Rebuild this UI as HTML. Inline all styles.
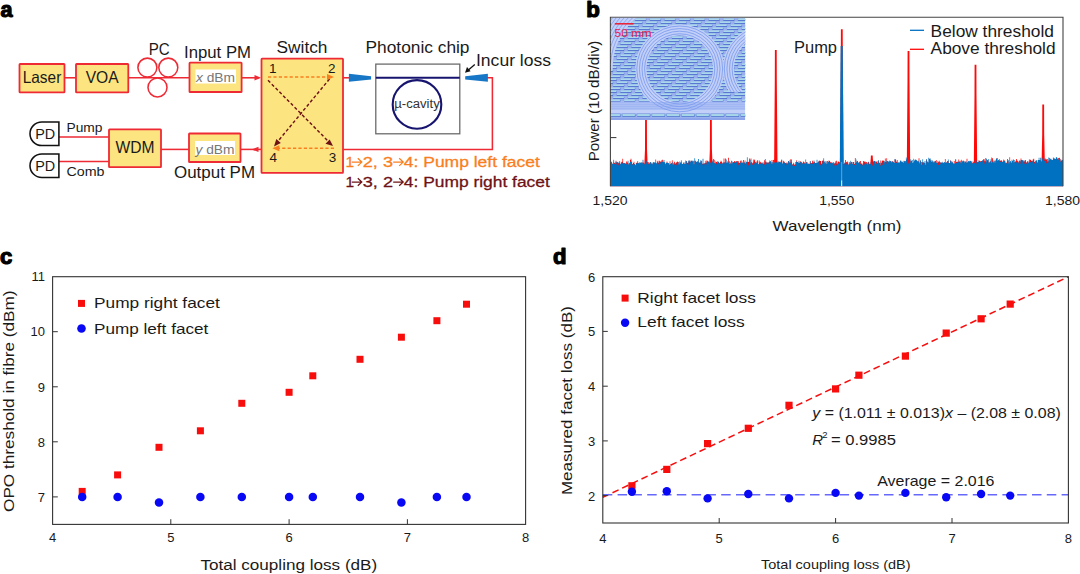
<!DOCTYPE html>
<html><head><meta charset="utf-8"><title>figure</title>
<style>
html,body{margin:0;padding:0;background:#fff;}
body{width:1080px;height:574px;overflow:hidden;}
svg{display:block;font-family:'Liberation Sans', sans-serif;}
text{font-family:"Liberation Sans", sans-serif;}
</style></head><body>
<svg width="1080" height="574" viewBox="0 0 1080 574">
<rect width="1080" height="574" fill="#fff"/>
<g id="pa">
<text x="0.6" y="17.3" font-size="22" fill="#000" textLength="12" lengthAdjust="spacingAndGlyphs" font-weight="bold" stroke="#000" stroke-width="1.2" stroke-linejoin="round">a</text>
<g stroke="#ee2a35" stroke-width="1.55" fill="none">
<path d="M64.5 77.8H76"/>
<path d="M128.3 77.8H189.5"/>
<path d="M241.6 77.8H259"/>
<circle cx="147.4" cy="67.6" r="9.5"/><circle cx="168.3" cy="67.6" r="9.5"/><circle cx="157.5" cy="87.4" r="9.5"/>
<path d="M343 77.8H350"/>
<path d="M487 77.8H492.4V149.4H343"/>
<path d="M261.5 149.4H240"/>
<path d="M189 149.4H161"/>
<path d="M109 136.9H59"/><path d="M109 161.4H59"/>
</g>
<path d="M261 77.8l-6.5 -2.7v5.4z" fill="#ee2a35"/>
<path d="M251.5 149.4l7 -2.7v5.4z" fill="#ee2a35"/>
<rect x="19.5" y="64" width="45.0" height="28.400000000000006" fill="#fce580" stroke="#ee2a35" stroke-width="1.8" rx="0.6"/>
<rect x="76" y="64" width="52.30000000000001" height="28.400000000000006" fill="#fce580" stroke="#ee2a35" stroke-width="1.8" rx="0.6"/>
<rect x="189.5" y="62.7" width="52.099999999999994" height="29.299999999999997" fill="#fce580" stroke="#ee2a35" stroke-width="1.8" rx="0.6"/>
<rect x="261.5" y="58.7" width="81.5" height="114.10000000000001" fill="#fce580" stroke="#ee2a35" stroke-width="1.8" rx="0.6"/>
<rect x="109" y="129.3" width="52" height="37.89999999999998" fill="#fce580" stroke="#ee2a35" stroke-width="1.8" rx="0.6"/>
<rect x="189" y="133.5" width="51.5" height="28.5" fill="#fce580" stroke="#ee2a35" stroke-width="1.8" rx="0.6"/>
<rect x="195.5" y="69.5" width="40.5" height="14" fill="#fff"/>
<rect x="195" y="141" width="40" height="14" fill="#fff"/>
<text x="42" y="82.9" font-size="16.5" fill="#1a1a1a" text-anchor="middle" textLength="38.6" lengthAdjust="spacingAndGlyphs" >Laser</text>
<text x="102.2" y="82.9" font-size="16.5" fill="#1a1a1a" text-anchor="middle" textLength="33" lengthAdjust="spacingAndGlyphs" >VOA</text>
<text x="159.2" y="54.5" font-size="16" fill="#1a1a1a" text-anchor="middle" textLength="21" lengthAdjust="spacingAndGlyphs" >PC</text>
<text x="217.5" y="57.5" font-size="16" fill="#1a1a1a" text-anchor="middle" textLength="67" lengthAdjust="spacingAndGlyphs" >Input PM</text>
<text x="196" y="82" font-size="13.5" fill="#777" textLength="39" lengthAdjust="spacingAndGlyphs"><tspan font-style="italic">x</tspan> dBm</text>
<text x="195.5" y="153.5" font-size="13.5" fill="#777" textLength="39" lengthAdjust="spacingAndGlyphs"><tspan font-style="italic">y</tspan> dBm</text>
<text x="302" y="53" font-size="16" fill="#1a1a1a" text-anchor="middle" textLength="51" lengthAdjust="spacingAndGlyphs" >Switch</text>
<text x="417.5" y="53" font-size="16" fill="#1a1a1a" text-anchor="middle" textLength="104" lengthAdjust="spacingAndGlyphs" >Photonic chip</text>
<text x="476" y="65.5" font-size="16" fill="#1a1a1a" textLength="75" lengthAdjust="spacingAndGlyphs" >Incur loss</text>
<text x="135" y="153.3" font-size="16" fill="#1a1a1a" text-anchor="middle" textLength="39" lengthAdjust="spacingAndGlyphs" >WDM</text>
<text x="214.5" y="177.5" font-size="16" fill="#1a1a1a" text-anchor="middle" textLength="81" lengthAdjust="spacingAndGlyphs" >Output PM</text>
<text x="84.5" y="131.5" font-size="12.5" fill="#1a1a1a" text-anchor="middle" textLength="36" lengthAdjust="spacingAndGlyphs" >Pump</text>
<text x="85.5" y="175.5" font-size="12.5" fill="#1a1a1a" text-anchor="middle" textLength="38" lengthAdjust="spacingAndGlyphs" >Comb</text>
<path d="M58.9 121.95H41.8a11.8 11.8 0 0 0 0 23.6H58.9z" fill="#fff" stroke="#111" stroke-width="1.55"/>
<text x="45.2" y="138.75" font-size="14.5" fill="#1a1a1a" text-anchor="middle" textLength="20" lengthAdjust="spacingAndGlyphs" >PD</text>
<path d="M58.9 153.89999999999998H41.8a11.8 11.8 0 0 0 0 23.6H58.9z" fill="#fff" stroke="#111" stroke-width="1.55"/>
<text x="45.2" y="170.7" font-size="14.5" fill="#1a1a1a" text-anchor="middle" textLength="20" lengthAdjust="spacingAndGlyphs" >PD</text>
<text x="269" y="72.8" font-size="13.5" fill="#1a1a1a" >1</text>
<text x="328" y="72.8" font-size="13.5" fill="#1a1a1a" >2</text>
<text x="269.5" y="162" font-size="13.5" fill="#1a1a1a" >4</text>
<text x="328.8" y="162" font-size="13.5" fill="#1a1a1a" >3</text>
<g stroke-width="1.45" fill="none" stroke-dasharray="3.2 2.2">
<path d="M268 77.0H328" stroke="#f97e1e"/>
<path d="M334 148.3H278" stroke="#f97e1e"/>
<path d="M268 80.3L329.5 142.5" stroke="#6e1216"/>
<path d="M329.5 79L276.5 143" stroke="#6e1216"/>
</g>
<path d="M334 77.0l-7 -3v6z" fill="#f97e1e"/>
<path d="M272.3 148.3l7 -3v6z" fill="#f97e1e"/>
<path d="M333 146l-7.5 -2.2 4.2 -4.2z" fill="#6e1216"/>
<path d="M274 146.5l2.3 -7.5 4.5 3.9z" fill="#6e1216"/>
<rect x="375.8" y="64.1" width="84" height="69.7" fill="#fff" stroke="#666" stroke-width="1.25"/>
<path d="M375.8 77.7H459.8" stroke="#17146f" stroke-width="2.1"/>
<circle cx="417" cy="104.4" r="24.3" fill="none" stroke="#17146f" stroke-width="2.1"/>
<text x="417" y="108.4" font-size="12" fill="#333" text-anchor="middle" textLength="45.5" lengthAdjust="spacingAndGlyphs" >µ-cavity</text>
<path d="M348.9 73.8L371.1 76.2v3.2L348.9 81.8z" fill="#1777c6"/>
<path d="M487.9 73.8L465.2 76.2v3.2L487.9 81.8z" fill="#1777c6"/>
<path d="M474.8 64.6L467.8 70.4" stroke="#111" stroke-width="1.3"/>
<path d="M465 72.7l2 -5.8 3.6 4.4z" fill="#111"/>
<text x="345.6" y="167.4" font-size="15.5" fill="#f97e1e" stroke="#f97e1e" stroke-width="0.3">1</text>
<path d="M351.8 162.1H361.59999999999997M357.8 158.29999999999998L361.8 162.1L357.8 165.9" stroke="#f97e1e" stroke-width="1.25" fill="none"/>
<text x="362.8" y="167.4" font-size="15.5" fill="#f97e1e" textLength="30.2" lengthAdjust="spacingAndGlyphs" stroke="#f97e1e" stroke-width="0.3">2, 3</text>
<path d="M393.2 162.1H403.0M399.20000000000005 158.29999999999998L403.20000000000005 162.1L399.20000000000005 165.9" stroke="#f97e1e" stroke-width="1.25" fill="none"/>
<text x="403.8" y="167.4" font-size="15.5" fill="#f97e1e" textLength="136" lengthAdjust="spacingAndGlyphs" stroke="#f97e1e" stroke-width="0.3">4: Pump left facet</text>
<text x="345.6" y="187.3" font-size="15.5" fill="#6e1216" stroke="#6e1216" stroke-width="0.3">1</text>
<path d="M351.8 182.0H361.59999999999997M357.8 178.2L361.8 182.0L357.8 185.8" stroke="#6e1216" stroke-width="1.25" fill="none"/>
<text x="362.8" y="187.3" font-size="15.5" fill="#6e1216" textLength="30.2" lengthAdjust="spacingAndGlyphs" stroke="#6e1216" stroke-width="0.3">3, 2</text>
<path d="M393.2 182.0H403.0M399.20000000000005 178.2L403.20000000000005 182.0L399.20000000000005 185.8" stroke="#6e1216" stroke-width="1.25" fill="none"/>
<text x="403.8" y="187.3" font-size="15.5" fill="#6e1216" textLength="146" lengthAdjust="spacingAndGlyphs" stroke="#6e1216" stroke-width="0.3">4: Pump right facet</text>
</g>
<g id="pb">
<text x="586.3" y="16.9" font-size="22" fill="#000" textLength="13.6" lengthAdjust="spacingAndGlyphs" font-weight="bold" stroke="#000" stroke-width="1.2" stroke-linejoin="round">b</text>
<path d="M610.4 186.2L610.4 162.8L611.1 162.8L611.1 162.8L611.9 162.8L611.9 163.8L612.6 163.8L612.6 163.9L613.4 163.9L613.4 161.8L614.1 161.8L614.1 163.0L614.9 163.0L614.9 163.6L615.6 163.6L615.6 160.8L616.4 160.8L616.4 162.5L617.1 162.5L617.1 162.0L617.9 162.0L617.9 163.3L618.6 163.3L618.6 163.1L619.4 163.1L619.4 161.0L620.1 161.0L620.1 165.4L620.9 165.4L620.9 164.2L621.6 164.2L621.6 161.8L622.4 161.8L622.4 158.7L623.1 158.7L623.1 166.1L623.9 166.1L623.9 163.1L624.6 163.1L624.6 163.7L625.4 163.7L625.4 163.3L626.1 163.3L626.1 161.5L626.9 161.5L626.9 164.1L627.6 164.1L627.6 166.1L628.4 166.1L628.4 163.4L629.1 163.4L629.1 163.3L629.9 163.3L629.9 159.9L630.6 159.9L630.6 158.8L631.4 158.8L631.4 165.2L632.1 165.2L632.1 163.9L632.9 163.9L632.9 163.0L633.6 163.0L633.6 161.7L634.4 161.7L634.4 164.0L635.1 164.0L635.1 165.4L635.9 165.4L635.9 162.7L636.6 162.7L636.6 163.0L637.4 163.0L637.4 162.5L638.1 162.5L638.1 166.3L638.9 166.3L638.9 162.7L639.6 162.7L639.6 163.5L640.4 163.5L640.4 166.2L641.1 166.2L641.1 163.2L641.9 163.2L641.9 163.6L642.6 163.6L642.6 161.9L643.4 161.9L643.4 166.5L644.1 166.5L644.1 163.4L644.9 163.4L644.9 165.6L645.6 165.6L645.6 163.4L646.4 163.4L646.4 163.7L647.1 163.7L647.1 163.6L647.9 163.6L647.9 162.0L648.6 162.0L648.6 163.6L649.4 163.6L649.4 163.5L650.1 163.5L650.1 162.4L650.9 162.4L650.9 166.4L651.6 166.4L651.6 164.7L652.4 164.7L652.4 163.5L653.1 163.5L653.1 162.2L653.9 162.2L653.9 164.4L654.6 164.4L654.6 164.5L655.4 164.5L655.4 159.5L656.1 159.5L656.1 165.8L656.9 165.8L656.9 162.8L657.6 162.8L657.6 160.7L658.4 160.7L658.4 163.1L659.1 163.1L659.1 160.8L659.9 160.8L659.9 161.7L660.6 161.7L660.6 161.3L661.4 161.3L661.4 162.1L662.1 162.1L662.1 159.7L662.9 159.7L662.9 162.7L663.6 162.7L663.6 163.7L664.4 163.7L664.4 162.6L665.1 162.6L665.1 163.7L665.9 163.7L665.9 165.8L666.6 165.8L666.6 161.6L667.4 161.6L667.4 162.9L668.1 162.9L668.1 164.3L668.9 164.3L668.9 166.1L669.6 166.1L669.6 161.3L670.4 161.3L670.4 164.0L671.1 164.0L671.1 162.9L671.9 162.9L671.9 160.3L672.6 160.3L672.6 166.1L673.4 166.1L673.4 162.7L674.1 162.7L674.1 161.8L674.9 161.8L674.9 164.1L675.6 164.1L675.6 163.1L676.4 163.1L676.4 161.9L677.1 161.9L677.1 161.9L677.9 161.9L677.9 161.9L678.6 161.9L678.6 164.9L679.4 164.9L679.4 163.5L680.1 163.5L680.1 164.1L680.9 164.1L680.9 161.7L681.6 161.7L681.6 164.9L682.4 164.9L682.4 165.2L683.1 165.2L683.1 162.4L683.9 162.4L683.9 163.6L684.6 163.6L684.6 164.5L685.4 164.5L685.4 160.4L686.1 160.4L686.1 161.6L686.9 161.6L686.9 162.8L687.6 162.8L687.6 162.8L688.4 162.8L688.4 161.3L689.1 161.3L689.1 160.6L689.9 160.6L689.9 162.3L690.6 162.3L690.6 160.8L691.4 160.8L691.4 160.8L692.1 160.8L692.1 163.4L692.9 163.4L692.9 160.8L693.6 160.8L693.6 164.7L694.4 164.7L694.4 160.9L695.1 160.9L695.1 162.4L695.9 162.4L695.9 164.7L696.6 164.7L696.6 162.3L697.4 162.3L697.4 160.9L698.1 160.9L698.1 162.6L698.9 162.6L698.9 162.3L699.6 162.3L699.6 162.9L700.4 162.9L700.4 161.6L701.1 161.6L701.1 160.7L701.9 160.7L701.9 163.6L702.6 163.6L702.6 164.0L703.4 164.0L703.4 163.2L704.1 163.2L704.1 163.5L704.9 163.5L704.9 163.1L705.6 163.1L705.6 162.7L706.4 162.7L706.4 160.6L707.1 160.6L707.1 161.5L707.9 161.5L707.9 162.7L708.6 162.7L708.6 163.3L709.4 163.3L709.4 164.2L710.1 164.2L710.1 162.1L710.9 162.1L710.9 161.4L711.6 161.4L711.6 161.2L712.4 161.2L712.4 164.2L713.1 164.2L713.1 164.0L713.9 164.0L713.9 159.8L714.6 159.8L714.6 165.4L715.4 165.4L715.4 161.5L716.1 161.5L716.1 162.0L716.9 162.0L716.9 161.4L717.6 161.4L717.6 163.6L718.4 163.6L718.4 163.8L719.1 163.8L719.1 163.3L719.9 163.3L719.9 162.0L720.6 162.0L720.6 160.8L721.4 160.8L721.4 161.8L722.1 161.8L722.1 163.4L722.9 163.4L722.9 162.4L723.6 162.4L723.6 158.6L724.4 158.6L724.4 162.5L725.1 162.5L725.1 158.4L725.9 158.4L725.9 163.5L726.6 163.5L726.6 162.8L727.4 162.8L727.4 164.3L728.1 164.3L728.1 157.7L728.9 157.7L728.9 164.0L729.6 164.0L729.6 162.1L730.4 162.1L730.4 163.8L731.1 163.8L731.1 160.8L731.9 160.8L731.9 164.2L732.6 164.2L732.6 162.2L733.4 162.2L733.4 162.0L734.1 162.0L734.1 161.1L734.9 161.1L734.9 162.2L735.6 162.2L735.6 161.7L736.4 161.7L736.4 161.1L737.1 161.1L737.1 162.6L737.9 162.6L737.9 161.1L738.6 161.1L738.6 162.4L739.4 162.4L739.4 163.0L740.1 163.0L740.1 160.7L740.9 160.7L740.9 163.9L741.6 163.9L741.6 161.7L742.4 161.7L742.4 164.3L743.1 164.3L743.1 160.1L743.9 160.1L743.9 162.9L744.6 162.9L744.6 160.4L745.4 160.4L745.4 163.8L746.1 163.8L746.1 162.7L746.9 162.7L746.9 162.1L747.6 162.1L747.6 162.1L748.4 162.1L748.4 161.7L749.1 161.7L749.1 161.9L749.9 161.9L749.9 164.1L750.6 164.1L750.6 158.5L751.4 158.5L751.4 162.2L752.1 162.2L752.1 163.3L752.9 163.3L752.9 162.5L753.6 162.5L753.6 159.2L754.4 159.2L754.4 160.2L755.1 160.2L755.1 165.4L755.9 165.4L755.9 162.9L756.6 162.9L756.6 161.3L757.4 161.3L757.4 161.2L758.1 161.2L758.1 164.4L758.9 164.4L758.9 160.6L759.6 160.6L759.6 162.4L760.4 162.4L760.4 161.7L761.1 161.7L761.1 162.7L761.9 162.7L761.9 163.7L762.6 163.7L762.6 162.8L763.4 162.8L763.4 163.9L764.1 163.9L764.1 160.3L764.9 160.3L764.9 163.1L765.6 163.1L765.6 161.7L766.4 161.7L766.4 162.8L767.1 162.8L767.1 162.5L767.9 162.5L767.9 163.0L768.6 163.0L768.6 162.0L769.4 162.0L769.4 160.5L770.1 160.5L770.1 162.0L770.9 162.0L770.9 163.8L771.6 163.8L771.6 160.0L772.4 160.0L772.4 163.4L773.1 163.4L773.1 160.1L773.9 160.1L773.9 159.6L774.6 159.6L774.6 163.2L775.4 163.2L775.4 161.8L776.1 161.8L776.1 163.3L776.9 163.3L776.9 163.6L777.6 163.6L777.6 161.5L778.4 161.5L778.4 164.4L779.1 164.4L779.1 162.9L779.9 162.9L779.9 163.2L780.6 163.2L780.6 161.3L781.4 161.3L781.4 160.1L782.1 160.1L782.1 165.5L782.9 165.5L782.9 160.8L783.6 160.8L783.6 161.4L784.4 161.4L784.4 162.5L785.1 162.5L785.1 163.1L785.9 163.1L785.9 163.6L786.6 163.6L786.6 162.2L787.4 162.2L787.4 164.9L788.1 164.9L788.1 161.2L788.9 161.2L788.9 163.7L789.6 163.7L789.6 162.6L790.4 162.6L790.4 159.2L791.1 159.2L791.1 162.1L791.9 162.1L791.9 164.7L792.6 164.7L792.6 164.1L793.4 164.1L793.4 162.8L794.1 162.8L794.1 164.8L794.9 164.8L794.9 164.3L795.6 164.3L795.6 162.1L796.4 162.1L796.4 160.3L797.1 160.3L797.1 162.0L797.9 162.0L797.9 165.0L798.6 165.0L798.6 162.2L799.4 162.2L799.4 163.0L800.1 163.0L800.1 161.3L800.9 161.3L800.9 161.9L801.6 161.9L801.6 163.8L802.4 163.8L802.4 162.7L803.1 162.7L803.1 161.4L803.9 161.4L803.9 162.3L804.6 162.3L804.6 163.5L805.4 163.5L805.4 163.5L806.1 163.5L806.1 161.9L806.9 161.9L806.9 165.4L807.6 165.4L807.6 165.0L808.4 165.0L808.4 163.5L809.1 163.5L809.1 163.8L809.9 163.8L809.9 161.5L810.6 161.5L810.6 163.1L811.4 163.1L811.4 163.2L812.1 163.2L812.1 160.8L812.9 160.8L812.9 162.4L813.6 162.4L813.6 162.3L814.4 162.3L814.4 161.7L815.1 161.7L815.1 163.0L815.9 163.0L815.9 163.4L816.6 163.4L816.6 163.1L817.4 163.1L817.4 164.2L818.1 164.2L818.1 161.7L818.9 161.7L818.9 160.5L819.6 160.5L819.6 161.1L820.4 161.1L820.4 161.0L821.1 161.0L821.1 164.0L821.9 164.0L821.9 161.1L822.6 161.1L822.6 160.3L823.4 160.3L823.4 164.4L824.1 164.4L824.1 166.4L824.9 166.4L824.9 163.6L825.6 163.6L825.6 161.4L826.4 161.4L826.4 163.9L827.1 163.9L827.1 161.1L827.9 161.1L827.9 163.0L828.6 163.0L828.6 160.4L829.4 160.4L829.4 160.9L830.1 160.9L830.1 162.3L830.9 162.3L830.9 162.3L831.6 162.3L831.6 163.4L832.4 163.4L832.4 163.6L833.1 163.6L833.1 163.9L833.9 163.9L833.9 163.8L834.6 163.8L834.6 162.9L835.4 162.9L835.4 163.8L836.1 163.8L836.1 160.8L836.9 160.8L836.9 164.3L837.6 164.3L837.6 161.8L838.4 161.8L838.4 161.5L839.1 161.5L839.1 162.4L839.9 162.4L839.9 164.5L840.6 164.5L840.6 160.9L841.4 160.9L841.4 160.2L842.1 160.2L842.1 162.5L842.9 162.5L842.9 163.9L843.6 163.9L843.6 163.9L844.4 163.9L844.4 163.1L845.1 163.1L845.1 160.0L845.9 160.0L845.9 162.3L846.6 162.3L846.6 161.8L847.4 161.8L847.4 162.6L848.1 162.6L848.1 164.5L848.9 164.5L848.9 164.5L849.6 164.5L849.6 162.2L850.4 162.2L850.4 163.5L851.1 163.5L851.1 162.1L851.9 162.1L851.9 164.4L852.6 164.4L852.6 162.3L853.4 162.3L853.4 162.0L854.1 162.0L854.1 164.0L854.9 164.0L854.9 158.1L855.6 158.1L855.6 163.8L856.4 163.8L856.4 161.4L857.1 161.4L857.1 161.2L857.9 161.2L857.9 164.0L858.6 164.0L858.6 163.1L859.4 163.1L859.4 164.1L860.1 164.1L860.1 161.0L860.9 161.0L860.9 163.4L861.6 163.4L861.6 163.5L862.4 163.5L862.4 164.7L863.1 164.7L863.1 161.1L863.9 161.1L863.9 161.6L864.6 161.6L864.6 161.7L865.4 161.7L865.4 163.6L866.1 163.6L866.1 162.1L866.9 162.1L866.9 165.3L867.6 165.3L867.6 162.3L868.4 162.3L868.4 162.1L869.1 162.1L869.1 165.5L869.9 165.5L869.9 164.6L870.6 164.6L870.6 164.9L871.4 164.9L871.4 163.5L872.1 163.5L872.1 164.6L872.9 164.6L872.9 164.4L873.6 164.4L873.6 164.8L874.4 164.8L874.4 162.1L875.1 162.1L875.1 164.1L875.9 164.1L875.9 161.9L876.6 161.9L876.6 160.9L877.4 160.9L877.4 165.6L878.1 165.6L878.1 161.2L878.9 161.2L878.9 163.2L879.6 163.2L879.6 164.7L880.4 164.7L880.4 160.6L881.1 160.6L881.1 162.9L881.9 162.9L881.9 161.0L882.6 161.0L882.6 160.0L883.4 160.0L883.4 160.9L884.1 160.9L884.1 163.3L884.9 163.3L884.9 158.5L885.6 158.5L885.6 161.9L886.4 161.9L886.4 158.3L887.1 158.3L887.1 162.0L887.9 162.0L887.9 164.3L888.6 164.3L888.6 164.2L889.4 164.2L889.4 161.8L890.1 161.8L890.1 161.6L890.9 161.6L890.9 162.6L891.6 162.6L891.6 161.6L892.4 161.6L892.4 161.3L893.1 161.3L893.1 161.7L893.9 161.7L893.9 163.0L894.6 163.0L894.6 159.4L895.4 159.4L895.4 159.4L896.1 159.4L896.1 161.8L896.9 161.8L896.9 160.1L897.6 160.1L897.6 163.0L898.4 163.0L898.4 164.7L899.1 164.7L899.1 162.5L899.9 162.5L899.9 163.8L900.6 163.8L900.6 161.9L901.4 161.9L901.4 163.6L902.1 163.6L902.1 162.5L902.9 162.5L902.9 163.7L903.6 163.7L903.6 160.8L904.4 160.8L904.4 162.6L905.1 162.6L905.1 160.9L905.9 160.9L905.9 162.6L906.6 162.6L906.6 161.4L907.4 161.4L907.4 165.0L908.1 165.0L908.1 159.4L908.9 159.4L908.9 159.6L909.6 159.6L909.6 163.3L910.4 163.3L910.4 160.8L911.1 160.8L911.1 163.5L911.9 163.5L911.9 163.0L912.6 163.0L912.6 163.8L913.4 163.8L913.4 162.1L914.1 162.1L914.1 161.4L914.9 161.4L914.9 162.2L915.6 162.2L915.6 163.0L916.4 163.0L916.4 164.6L917.1 164.6L917.1 161.3L917.9 161.3L917.9 161.7L918.6 161.7L918.6 158.3L919.4 158.3L919.4 163.8L920.1 163.8L920.1 161.0L920.9 161.0L920.9 165.1L921.6 165.1L921.6 161.9L922.4 161.9L922.4 162.4L923.1 162.4L923.1 163.1L923.9 163.1L923.9 163.9L924.6 163.9L924.6 163.0L925.4 163.0L925.4 164.9L926.1 164.9L926.1 159.7L926.9 159.7L926.9 161.3L927.6 161.3L927.6 162.2L928.4 162.2L928.4 164.8L929.1 164.8L929.1 161.6L929.9 161.6L929.9 162.2L930.6 162.2L930.6 160.0L931.4 160.0L931.4 162.1L932.1 162.1L932.1 162.2L932.9 162.2L932.9 162.3L933.6 162.3L933.6 164.9L934.4 164.9L934.4 161.5L935.1 161.5L935.1 161.0L935.9 161.0L935.9 160.0L936.6 160.0L936.6 164.4L937.4 164.4L937.4 163.0L938.1 163.0L938.1 161.8L938.9 161.8L938.9 160.8L939.6 160.8L939.6 162.7L940.4 162.7L940.4 162.6L941.1 162.6L941.1 162.6L941.9 162.6L941.9 162.7L942.6 162.7L942.6 164.4L943.4 164.4L943.4 164.8L944.1 164.8L944.1 164.9L944.9 164.9L944.9 159.1L945.6 159.1L945.6 162.7L946.4 162.7L946.4 162.3L947.1 162.3L947.1 160.9L947.9 160.9L947.9 161.3L948.6 161.3L948.6 164.3L949.4 164.3L949.4 164.6L950.1 164.6L950.1 160.4L950.9 160.4L950.9 162.8L951.6 162.8L951.6 161.4L952.4 161.4L952.4 163.8L953.1 163.8L953.1 163.7L953.9 163.7L953.9 161.0L954.6 161.0L954.6 164.8L955.4 164.8L955.4 160.1L956.1 160.1L956.1 162.1L956.9 162.1L956.9 162.1L957.6 162.1L957.6 162.0L958.4 162.0L958.4 159.6L959.1 159.6L959.1 161.8L959.9 161.8L959.9 160.7L960.6 160.7L960.6 163.2L961.4 163.2L961.4 159.7L962.1 159.7L962.1 163.3L962.9 163.3L962.9 160.4L963.6 160.4L963.6 161.3L964.4 161.3L964.4 164.6L965.1 164.6L965.1 162.2L965.9 162.2L965.9 162.9L966.6 162.9L966.6 158.8L967.4 158.8L967.4 162.7L968.1 162.7L968.1 163.8L968.9 163.8L968.9 162.1L969.6 162.1L969.6 161.3L970.4 161.3L970.4 161.0L971.1 161.0L971.1 163.0L971.9 163.0L971.9 163.3L972.6 163.3L972.6 161.6L973.4 161.6L973.4 162.4L974.1 162.4L974.1 161.5L974.9 161.5L974.9 162.9L975.6 162.9L975.6 162.5L976.4 162.5L976.4 160.5L977.1 160.5L977.1 162.1L977.9 162.1L977.9 163.2L978.6 163.2L978.6 160.2L979.4 160.2L979.4 161.1L980.1 161.1L980.1 161.3L980.9 161.3L980.9 161.7L981.6 161.7L981.6 161.7L982.4 161.7L982.4 160.8L983.1 160.8L983.1 159.3L983.9 159.3L983.9 159.2L984.6 159.2L984.6 161.3L985.4 161.3L985.4 157.9L986.1 157.9L986.1 162.4L986.9 162.4L986.9 160.1L987.6 160.1L987.6 160.2L988.4 160.2L988.4 162.4L989.1 162.4L989.1 162.2L989.9 162.2L989.9 161.1L990.6 161.1L990.6 163.3L991.4 163.3L991.4 157.6L992.1 157.6L992.1 158.3L992.9 158.3L992.9 163.5L993.6 163.5L993.6 160.6L994.4 160.6L994.4 163.8L995.1 163.8L995.1 160.6L995.9 160.6L995.9 164.5L996.6 164.5L996.6 158.1L997.4 158.1L997.4 162.0L998.1 162.0L998.1 162.4L998.9 162.4L998.9 160.6L999.6 160.6L999.6 160.8L1000.4 160.8L1000.4 160.6L1001.1 160.6L1001.1 160.5L1001.9 160.5L1001.9 163.1L1002.6 163.1L1002.6 161.5L1003.4 161.5L1003.4 159.6L1004.1 159.6L1004.1 160.4L1004.9 160.4L1004.9 163.5L1005.6 163.5L1005.6 162.9L1006.4 162.9L1006.4 162.4L1007.1 162.4L1007.1 159.1L1007.9 159.1L1007.9 161.2L1008.6 161.2L1008.6 164.1L1009.4 164.1L1009.4 157.3L1010.1 157.3L1010.1 163.0L1010.9 163.0L1010.9 164.6L1011.6 164.6L1011.6 163.6L1012.4 163.6L1012.4 163.1L1013.1 163.1L1013.1 159.5L1013.9 159.5L1013.9 162.6L1014.6 162.6L1014.6 162.0L1015.4 162.0L1015.4 160.8L1016.1 160.8L1016.1 158.9L1016.9 158.9L1016.9 160.6L1017.6 160.6L1017.6 161.3L1018.4 161.3L1018.4 162.6L1019.1 162.6L1019.1 161.6L1019.9 161.6L1019.9 161.5L1020.6 161.5L1020.6 158.5L1021.4 158.5L1021.4 160.1L1022.1 160.1L1022.1 160.8L1022.9 160.8L1022.9 160.4L1023.6 160.4L1023.6 161.7L1024.4 161.7L1024.4 160.8L1025.2 160.8L1025.2 159.9L1025.9 159.9L1025.9 162.4L1026.7 162.4L1026.7 162.5L1027.4 162.5L1027.4 160.9L1028.2 160.9L1028.2 162.7L1028.9 162.7L1028.9 163.2L1029.7 163.2L1029.7 159.4L1030.4 159.4L1030.4 160.0L1031.2 160.0L1031.2 160.9L1031.9 160.9L1031.9 161.2L1032.7 161.2L1032.7 159.4L1033.4 159.4L1033.4 158.7L1034.2 158.7L1034.2 162.0L1034.9 162.0L1034.9 160.7L1035.7 160.7L1035.7 163.6L1036.4 163.6L1036.4 163.6L1037.2 163.6L1037.2 162.7L1037.9 162.7L1037.9 160.7L1038.7 160.7L1038.7 160.6L1039.4 160.6L1039.4 162.1L1040.2 162.1L1040.2 160.4L1040.9 160.4L1040.9 162.8L1041.7 162.8L1041.7 161.3L1042.4 161.3L1042.4 160.9L1043.2 160.9L1043.2 159.3L1043.9 159.3L1043.9 159.6L1044.7 159.6L1044.7 159.8L1045.4 159.8L1045.4 158.8L1046.2 158.8L1046.2 159.4L1046.9 159.4L1046.9 159.0L1047.7 159.0L1047.7 161.4L1048.4 161.4L1048.4 160.6L1049.2 160.6L1049.2 158.0L1049.9 158.0L1049.9 159.7L1050.7 159.7L1050.7 158.8L1051.4 158.8L1051.4 162.7L1052.2 162.7L1052.2 162.0L1052.9 162.0L1052.9 159.2L1053.7 159.2L1053.7 158.8L1054.4 158.8L1054.4 160.0L1055.2 160.0L1055.2 160.7L1055.9 160.7L1055.9 161.9L1056.7 161.9L1056.7 161.1L1057.4 161.1L1057.4 160.5L1058.2 160.5L1058.2 157.9L1058.9 157.9L1058.9 157.9L1059.7 157.9L1059.7 161.5L1060.4 161.5L1060.4 159.2L1061.2 159.2L1061.2 160.6L1061.9 160.6L1061.9 161.3L1062.7 161.3L1062.7 162.5L1063.0 162.5L1063.0 186.2Z" fill="#ff0808"/>
<path d="M644.3 166L645.0 149L645.1 119H646.9L647.0 149L647.7 166z" fill="#ff0808"/>
<path d="M709.1999999999999 166L709.9 149L710.0 119H711.8L711.9 149L712.6 166z" fill="#ff0808"/>
<path d="M774.0999999999999 166L774.8 80L774.9 50H776.6999999999999L776.8 80L777.5 166z" fill="#ff0808"/>
<path d="M840.0999999999999 166L840.8 59.2L840.9 29.2H842.6999999999999L842.8 59.2L843.5 166z" fill="#ff0808"/>
<path d="M906.8 166L907.5 81L907.6 51H909.4L909.5 81L910.2 166z" fill="#ff0808"/>
<path d="M973.8 166L974.5 94.8L974.6 64.8H976.4L976.5 94.8L977.2 166z" fill="#ff0808"/>
<path d="M1041.5 166L1042.2 134.5L1042.3 104.5H1044.1000000000001L1044.2 134.5L1044.9 166z" fill="#ff0808"/>
<path d="M870.0999999999999 166L870.8 158L870.9 155.5H872.6999999999999L872.8 158L873.5 166z" fill="#ff0808"/>
<path d="M610.4 186.2L610.4 161.8L611.1 161.8L611.1 161.7L611.9 161.7L611.9 163.4L612.6 163.4L612.6 163.9L613.4 163.9L613.4 159.8L614.1 159.8L614.1 164.0L614.9 164.0L614.9 162.3L615.6 162.3L615.6 164.6L616.4 164.6L616.4 161.8L617.1 161.8L617.1 163.6L617.9 163.6L617.9 165.2L618.6 165.2L618.6 162.0L619.4 162.0L619.4 164.5L620.1 164.5L620.1 163.8L620.9 163.8L620.9 162.3L621.6 162.3L621.6 162.5L622.4 162.5L622.4 163.6L623.1 163.6L623.1 163.1L623.9 163.1L623.9 163.0L624.6 163.0L624.6 163.6L625.4 163.6L625.4 164.8L626.1 164.8L626.1 163.9L626.9 163.9L626.9 162.4L627.6 162.4L627.6 160.8L628.4 160.8L628.4 164.4L629.1 164.4L629.1 163.4L629.9 163.4L629.9 161.8L630.6 161.8L630.6 161.8L631.4 161.8L631.4 161.4L632.1 161.4L632.1 164.6L632.9 164.6L632.9 164.5L633.6 164.5L633.6 164.1L634.4 164.1L634.4 164.2L635.1 164.2L635.1 165.3L635.9 165.3L635.9 163.4L636.6 163.4L636.6 163.2L637.4 163.2L637.4 161.1L638.1 161.1L638.1 162.9L638.9 162.9L638.9 164.0L639.6 164.0L639.6 162.0L640.4 162.0L640.4 163.0L641.1 163.0L641.1 162.2L641.9 162.2L641.9 163.3L642.6 163.3L642.6 159.8L643.4 159.8L643.4 163.0L644.1 163.0L644.1 164.2L644.9 164.2L644.9 161.6L645.6 161.6L645.6 162.7L646.4 162.7L646.4 160.8L647.1 160.8L647.1 161.9L647.9 161.9L647.9 164.2L648.6 164.2L648.6 163.9L649.4 163.9L649.4 162.4L650.1 162.4L650.1 162.0L650.9 162.0L650.9 163.6L651.6 163.6L651.6 162.5L652.4 162.5L652.4 164.3L653.1 164.3L653.1 162.6L653.9 162.6L653.9 162.4L654.6 162.4L654.6 162.3L655.4 162.3L655.4 162.8L656.1 162.8L656.1 163.2L656.9 163.2L656.9 161.2L657.6 161.2L657.6 162.2L658.4 162.2L658.4 164.3L659.1 164.3L659.1 162.1L659.9 162.1L659.9 161.9L660.6 161.9L660.6 163.6L661.4 163.6L661.4 160.2L662.1 160.2L662.1 161.7L662.9 161.7L662.9 161.8L663.6 161.8L663.6 159.9L664.4 159.9L664.4 162.3L665.1 162.3L665.1 166.2L665.9 166.2L665.9 162.8L666.6 162.8L666.6 162.8L667.4 162.8L667.4 162.7L668.1 162.7L668.1 163.1L668.9 163.1L668.9 164.7L669.6 164.7L669.6 163.6L670.4 163.6L670.4 164.1L671.1 164.1L671.1 163.8L671.9 163.8L671.9 162.3L672.6 162.3L672.6 164.4L673.4 164.4L673.4 164.3L674.1 164.3L674.1 164.5L674.9 164.5L674.9 164.2L675.6 164.2L675.6 163.2L676.4 163.2L676.4 165.2L677.1 165.2L677.1 161.6L677.9 161.6L677.9 162.5L678.6 162.5L678.6 164.5L679.4 164.5L679.4 161.5L680.1 161.5L680.1 162.6L680.9 162.6L680.9 160.3L681.6 160.3L681.6 163.8L682.4 163.8L682.4 164.1L683.1 164.1L683.1 163.8L683.9 163.8L683.9 164.0L684.6 164.0L684.6 162.3L685.4 162.3L685.4 163.9L686.1 163.9L686.1 161.1L686.9 161.1L686.9 163.4L687.6 163.4L687.6 164.6L688.4 164.6L688.4 160.6L689.1 160.6L689.1 165.8L689.9 165.8L689.9 162.2L690.6 162.2L690.6 160.8L691.4 160.8L691.4 162.3L692.1 162.3L692.1 160.7L692.9 160.7L692.9 161.5L693.6 161.5L693.6 164.2L694.4 164.2L694.4 158.3L695.1 158.3L695.1 160.7L695.9 160.7L695.9 161.9L696.6 161.9L696.6 161.4L697.4 161.4L697.4 162.5L698.1 162.5L698.1 159.0L698.9 159.0L698.9 164.9L699.6 164.9L699.6 162.4L700.4 162.4L700.4 160.3L701.1 160.3L701.1 162.7L701.9 162.7L701.9 164.4L702.6 164.4L702.6 158.8L703.4 158.8L703.4 165.5L704.1 165.5L704.1 163.7L704.9 163.7L704.9 160.7L705.6 160.7L705.6 164.5L706.4 164.5L706.4 162.4L707.1 162.4L707.1 160.8L707.9 160.8L707.9 161.6L708.6 161.6L708.6 161.5L709.4 161.5L709.4 162.2L710.1 162.2L710.1 162.7L710.9 162.7L710.9 165.4L711.6 165.4L711.6 162.1L712.4 162.1L712.4 160.4L713.1 160.4L713.1 159.0L713.9 159.0L713.9 162.9L714.6 162.9L714.6 163.2L715.4 163.2L715.4 163.2L716.1 163.2L716.1 164.3L716.9 164.3L716.9 162.7L717.6 162.7L717.6 161.2L718.4 161.2L718.4 162.1L719.1 162.1L719.1 162.9L719.9 162.9L719.9 164.1L720.6 164.1L720.6 162.9L721.4 162.9L721.4 162.6L722.1 162.6L722.1 163.4L722.9 163.4L722.9 163.3L723.6 163.3L723.6 163.4L724.4 163.4L724.4 162.2L725.1 162.2L725.1 162.4L725.9 162.4L725.9 159.5L726.6 159.5L726.6 162.7L727.4 162.7L727.4 161.2L728.1 161.2L728.1 162.6L728.9 162.6L728.9 161.1L729.6 161.1L729.6 164.2L730.4 164.2L730.4 162.9L731.1 162.9L731.1 164.1L731.9 164.1L731.9 161.6L732.6 161.6L732.6 163.2L733.4 163.2L733.4 162.4L734.1 162.4L734.1 162.7L734.9 162.7L734.9 162.5L735.6 162.5L735.6 161.2L736.4 161.2L736.4 162.1L737.1 162.1L737.1 161.1L737.9 161.1L737.9 165.3L738.6 165.3L738.6 163.7L739.4 163.7L739.4 163.3L740.1 163.3L740.1 162.5L740.9 162.5L740.9 160.5L741.6 160.5L741.6 163.0L742.4 163.0L742.4 162.6L743.1 162.6L743.1 162.9L743.9 162.9L743.9 161.9L744.6 161.9L744.6 164.3L745.4 164.3L745.4 162.7L746.1 162.7L746.1 161.7L746.9 161.7L746.9 157.2L747.6 157.2L747.6 164.7L748.4 164.7L748.4 165.4L749.1 165.4L749.1 158.4L749.9 158.4L749.9 159.7L750.6 159.7L750.6 162.8L751.4 162.8L751.4 163.8L752.1 163.8L752.1 164.7L752.9 164.7L752.9 160.2L753.6 160.2L753.6 164.3L754.4 164.3L754.4 162.8L755.1 162.8L755.1 161.9L755.9 161.9L755.9 162.6L756.6 162.6L756.6 162.7L757.4 162.7L757.4 160.1L758.1 160.1L758.1 164.3L758.9 164.3L758.9 164.1L759.6 164.1L759.6 163.2L760.4 163.2L760.4 163.7L761.1 163.7L761.1 165.1L761.9 165.1L761.9 163.4L762.6 163.4L762.6 162.2L763.4 162.2L763.4 165.6L764.1 165.6L764.1 164.6L764.9 164.6L764.9 158.9L765.6 158.9L765.6 161.7L766.4 161.7L766.4 163.6L767.1 163.6L767.1 162.7L767.9 162.7L767.9 163.7L768.6 163.7L768.6 162.3L769.4 162.3L769.4 161.9L770.1 161.9L770.1 161.1L770.9 161.1L770.9 162.2L771.6 162.2L771.6 164.1L772.4 164.1L772.4 162.1L773.1 162.1L773.1 163.9L773.9 163.9L773.9 162.8L774.6 162.8L774.6 162.3L775.4 162.3L775.4 162.6L776.1 162.6L776.1 162.3L776.9 162.3L776.9 162.5L777.6 162.5L777.6 162.4L778.4 162.4L778.4 161.5L779.1 161.5L779.1 161.7L779.9 161.7L779.9 161.9L780.6 161.9L780.6 162.6L781.4 162.6L781.4 159.6L782.1 159.6L782.1 163.4L782.9 163.4L782.9 162.1L783.6 162.1L783.6 162.0L784.4 162.0L784.4 162.9L785.1 162.9L785.1 165.4L785.9 165.4L785.9 164.4L786.6 164.4L786.6 163.1L787.4 163.1L787.4 163.4L788.1 163.4L788.1 161.1L788.9 161.1L788.9 162.6L789.6 162.6L789.6 160.2L790.4 160.2L790.4 163.1L791.1 163.1L791.1 159.6L791.9 159.6L791.9 165.6L792.6 165.6L792.6 164.3L793.4 164.3L793.4 163.4L794.1 163.4L794.1 166.0L794.9 166.0L794.9 165.3L795.6 165.3L795.6 161.9L796.4 161.9L796.4 161.5L797.1 161.5L797.1 161.9L797.9 161.9L797.9 162.9L798.6 162.9L798.6 160.7L799.4 160.7L799.4 165.2L800.1 165.2L800.1 162.0L800.9 162.0L800.9 162.0L801.6 162.0L801.6 162.9L802.4 162.9L802.4 163.7L803.1 163.7L803.1 162.1L803.9 162.1L803.9 163.3L804.6 163.3L804.6 163.7L805.4 163.7L805.4 159.4L806.1 159.4L806.1 162.6L806.9 162.6L806.9 162.2L807.6 162.2L807.6 163.7L808.4 163.7L808.4 164.1L809.1 164.1L809.1 164.0L809.9 164.0L809.9 161.1L810.6 161.1L810.6 163.7L811.4 163.7L811.4 163.1L812.1 163.1L812.1 163.8L812.9 163.8L812.9 163.9L813.6 163.9L813.6 160.5L814.4 160.5L814.4 162.7L815.1 162.7L815.1 165.4L815.9 165.4L815.9 163.1L816.6 163.1L816.6 159.7L817.4 159.7L817.4 162.4L818.1 162.4L818.1 161.6L818.9 161.6L818.9 163.8L819.6 163.8L819.6 164.2L820.4 164.2L820.4 165.3L821.1 165.3L821.1 163.4L821.9 163.4L821.9 163.6L822.6 163.6L822.6 161.0L823.4 161.0L823.4 158.3L824.1 158.3L824.1 161.4L824.9 161.4L824.9 163.6L825.6 163.6L825.6 161.2L826.4 161.2L826.4 163.7L827.1 163.7L827.1 164.7L827.9 164.7L827.9 161.9L828.6 161.9L828.6 161.4L829.4 161.4L829.4 164.3L830.1 164.3L830.1 163.1L830.9 163.1L830.9 162.5L831.6 162.5L831.6 163.3L832.4 163.3L832.4 162.4L833.1 162.4L833.1 162.3L833.9 162.3L833.9 165.6L834.6 165.6L834.6 162.8L835.4 162.8L835.4 161.2L836.1 161.2L836.1 165.2L836.9 165.2L836.9 163.4L837.6 163.4L837.6 163.3L838.4 163.3L838.4 163.7L839.1 163.7L839.1 162.2L839.9 162.2L839.9 161.4L840.6 161.4L840.6 164.2L841.4 164.2L841.4 164.0L842.1 164.0L842.1 165.5L842.9 165.5L842.9 164.2L843.6 164.2L843.6 164.4L844.4 164.4L844.4 162.5L845.1 162.5L845.1 166.1L845.9 166.1L845.9 163.6L846.6 163.6L846.6 164.6L847.4 164.6L847.4 161.5L848.1 161.5L848.1 164.8L848.9 164.8L848.9 162.3L849.6 162.3L849.6 163.7L850.4 163.7L850.4 160.8L851.1 160.8L851.1 161.9L851.9 161.9L851.9 164.0L852.6 164.0L852.6 162.3L853.4 162.3L853.4 162.0L854.1 162.0L854.1 165.1L854.9 165.1L854.9 163.3L855.6 163.3L855.6 159.6L856.4 159.6L856.4 162.2L857.1 162.2L857.1 160.9L857.9 160.9L857.9 162.7L858.6 162.7L858.6 162.3L859.4 162.3L859.4 161.6L860.1 161.6L860.1 164.1L860.9 164.1L860.9 165.4L861.6 165.4L861.6 165.6L862.4 165.6L862.4 164.8L863.1 164.8L863.1 163.3L863.9 163.3L863.9 164.6L864.6 164.6L864.6 163.2L865.4 163.2L865.4 161.7L866.1 161.7L866.1 163.7L866.9 163.7L866.9 162.9L867.6 162.9L867.6 164.5L868.4 164.5L868.4 161.7L869.1 161.7L869.1 163.8L869.9 163.8L869.9 164.0L870.6 164.0L870.6 162.2L871.4 162.2L871.4 163.7L872.1 163.7L872.1 165.4L872.9 165.4L872.9 161.5L873.6 161.5L873.6 161.1L874.4 161.1L874.4 161.0L875.1 161.0L875.1 161.4L875.9 161.4L875.9 164.1L876.6 164.1L876.6 162.8L877.4 162.8L877.4 162.8L878.1 162.8L878.1 160.2L878.9 160.2L878.9 162.5L879.6 162.5L879.6 163.0L880.4 163.0L880.4 165.8L881.1 165.8L881.1 162.4L881.9 162.4L881.9 165.1L882.6 165.1L882.6 162.2L883.4 162.2L883.4 163.5L884.1 163.5L884.1 161.2L884.9 161.2L884.9 162.4L885.6 162.4L885.6 163.7L886.4 163.7L886.4 160.5L887.1 160.5L887.1 161.0L887.9 161.0L887.9 161.5L888.6 161.5L888.6 161.4L889.4 161.4L889.4 160.6L890.1 160.6L890.1 161.0L890.9 161.0L890.9 162.8L891.6 162.8L891.6 161.2L892.4 161.2L892.4 162.0L893.1 162.0L893.1 163.8L893.9 163.8L893.9 163.0L894.6 163.0L894.6 159.1L895.4 159.1L895.4 160.4L896.1 160.4L896.1 162.7L896.9 162.7L896.9 162.5L897.6 162.5L897.6 162.2L898.4 162.2L898.4 162.6L899.1 162.6L899.1 162.7L899.9 162.7L899.9 160.4L900.6 160.4L900.6 160.7L901.4 160.7L901.4 161.7L902.1 161.7L902.1 161.7L902.9 161.7L902.9 163.1L903.6 163.1L903.6 161.5L904.4 161.5L904.4 160.9L905.1 160.9L905.1 163.0L905.9 163.0L905.9 157.4L906.6 157.4L906.6 159.5L907.4 159.5L907.4 161.8L908.1 161.8L908.1 163.6L908.9 163.6L908.9 160.3L909.6 160.3L909.6 162.2L910.4 162.2L910.4 159.3L911.1 159.3L911.1 160.7L911.9 160.7L911.9 160.0L912.6 160.0L912.6 163.1L913.4 163.1L913.4 158.7L914.1 158.7L914.1 160.6L914.9 160.6L914.9 159.5L915.6 159.5L915.6 159.7L916.4 159.7L916.4 160.2L917.1 160.2L917.1 161.6L917.9 161.6L917.9 160.8L918.6 160.8L918.6 162.0L919.4 162.0L919.4 163.4L920.1 163.4L920.1 160.2L920.9 160.2L920.9 161.9L921.6 161.9L921.6 164.7L922.4 164.7L922.4 159.3L923.1 159.3L923.1 162.3L923.9 162.3L923.9 162.7L924.6 162.7L924.6 161.0L925.4 161.0L925.4 164.7L926.1 164.7L926.1 159.2L926.9 159.2L926.9 162.4L927.6 162.4L927.6 162.5L928.4 162.5L928.4 157.7L929.1 157.7L929.1 158.7L929.9 158.7L929.9 158.6L930.6 158.6L930.6 160.7L931.4 160.7L931.4 162.9L932.1 162.9L932.1 160.5L932.9 160.5L932.9 162.5L933.6 162.5L933.6 160.9L934.4 160.9L934.4 162.3L935.1 162.3L935.1 160.9L935.9 160.9L935.9 162.4L936.6 162.4L936.6 163.0L937.4 163.0L937.4 161.3L938.1 161.3L938.1 165.0L938.9 165.0L938.9 162.2L939.6 162.2L939.6 162.1L940.4 162.1L940.4 163.8L941.1 163.8L941.1 163.5L941.9 163.5L941.9 161.8L942.6 161.8L942.6 163.0L943.4 163.0L943.4 162.4L944.1 162.4L944.1 162.1L944.9 162.1L944.9 163.4L945.6 163.4L945.6 162.8L946.4 162.8L946.4 162.6L947.1 162.6L947.1 162.1L947.9 162.1L947.9 159.4L948.6 159.4L948.6 163.0L949.4 163.0L949.4 163.0L950.1 163.0L950.1 160.7L950.9 160.7L950.9 161.2L951.6 161.2L951.6 162.7L952.4 162.7L952.4 162.0L953.1 162.0L953.1 163.6L953.9 163.6L953.9 164.1L954.6 164.1L954.6 163.1L955.4 163.1L955.4 158.9L956.1 158.9L956.1 162.9L956.9 162.9L956.9 161.6L957.6 161.6L957.6 162.2L958.4 162.2L958.4 161.6L959.1 161.6L959.1 161.5L959.9 161.5L959.9 161.9L960.6 161.9L960.6 163.4L961.4 163.4L961.4 160.8L962.1 160.8L962.1 161.3L962.9 161.3L962.9 161.7L963.6 161.7L963.6 162.8L964.4 162.8L964.4 161.6L965.1 161.6L965.1 161.5L965.9 161.5L965.9 161.4L966.6 161.4L966.6 163.3L967.4 163.3L967.4 162.0L968.1 162.0L968.1 161.0L968.9 161.0L968.9 161.6L969.6 161.6L969.6 160.8L970.4 160.8L970.4 161.1L971.1 161.1L971.1 161.5L971.9 161.5L971.9 163.2L972.6 163.2L972.6 163.5L973.4 163.5L973.4 162.4L974.1 162.4L974.1 162.9L974.9 162.9L974.9 160.1L975.6 160.1L975.6 164.1L976.4 164.1L976.4 160.7L977.1 160.7L977.1 163.6L977.9 163.6L977.9 161.9L978.6 161.9L978.6 161.2L979.4 161.2L979.4 161.5L980.1 161.5L980.1 162.0L980.9 162.0L980.9 161.1L981.6 161.1L981.6 160.9L982.4 160.9L982.4 159.9L983.1 159.9L983.1 161.5L983.9 161.5L983.9 162.2L984.6 162.2L984.6 163.9L985.4 163.9L985.4 161.8L986.1 161.8L986.1 158.8L986.9 158.8L986.9 162.2L987.6 162.2L987.6 162.9L988.4 162.9L988.4 158.9L989.1 158.9L989.1 162.9L989.9 162.9L989.9 161.4L990.6 161.4L990.6 159.3L991.4 159.3L991.4 163.2L992.1 163.2L992.1 161.7L992.9 161.7L992.9 161.6L993.6 161.6L993.6 162.6L994.4 162.6L994.4 160.9L995.1 160.9L995.1 162.7L995.9 162.7L995.9 159.0L996.6 159.0L996.6 158.1L997.4 158.1L997.4 160.8L998.1 160.8L998.1 160.0L998.9 160.0L998.9 159.0L999.6 159.0L999.6 162.0L1000.4 162.0L1000.4 161.6L1001.1 161.6L1001.1 160.7L1001.9 160.7L1001.9 162.0L1002.6 162.0L1002.6 161.4L1003.4 161.4L1003.4 160.4L1004.1 160.4L1004.1 161.1L1004.9 161.1L1004.9 161.5L1005.6 161.5L1005.6 163.6L1006.4 163.6L1006.4 163.1L1007.1 163.1L1007.1 161.0L1007.9 161.0L1007.9 160.1L1008.6 160.1L1008.6 163.4L1009.4 163.4L1009.4 161.9L1010.1 161.9L1010.1 161.0L1010.9 161.0L1010.9 162.4L1011.6 162.4L1011.6 159.8L1012.4 159.8L1012.4 160.9L1013.1 160.9L1013.1 162.9L1013.9 162.9L1013.9 160.1L1014.6 160.1L1014.6 162.6L1015.4 162.6L1015.4 163.2L1016.1 163.2L1016.1 162.3L1016.9 162.3L1016.9 162.2L1017.6 162.2L1017.6 161.7L1018.4 161.7L1018.4 163.2L1019.1 163.2L1019.1 160.6L1019.9 160.6L1019.9 160.4L1020.6 160.4L1020.6 163.8L1021.4 163.8L1021.4 161.1L1022.1 161.1L1022.1 160.0L1022.9 160.0L1022.9 162.0L1023.6 162.0L1023.6 160.6L1024.4 160.6L1024.4 163.7L1025.2 163.7L1025.2 160.5L1025.9 160.5L1025.9 163.7L1026.7 163.7L1026.7 162.3L1027.4 162.3L1027.4 161.5L1028.2 161.5L1028.2 162.7L1028.9 162.7L1028.9 159.6L1029.7 159.6L1029.7 161.8L1030.4 161.8L1030.4 162.2L1031.2 162.2L1031.2 163.8L1031.9 163.8L1031.9 161.6L1032.7 161.6L1032.7 160.4L1033.4 160.4L1033.4 162.2L1034.2 162.2L1034.2 163.4L1034.9 163.4L1034.9 162.4L1035.7 162.4L1035.7 160.8L1036.4 160.8L1036.4 160.0L1037.2 160.0L1037.2 162.4L1037.9 162.4L1037.9 160.0L1038.7 160.0L1038.7 157.8L1039.4 157.8L1039.4 160.1L1040.2 160.1L1040.2 157.8L1040.9 157.8L1040.9 161.4L1041.7 161.4L1041.7 157.8L1042.4 157.8L1042.4 159.4L1043.2 159.4L1043.2 157.3L1043.9 157.3L1043.9 161.0L1044.7 161.0L1044.7 158.3L1045.4 158.3L1045.4 160.2L1046.2 160.2L1046.2 163.3L1046.9 163.3L1046.9 162.7L1047.7 162.7L1047.7 162.3L1048.4 162.3L1048.4 157.5L1049.2 157.5L1049.2 161.0L1049.9 161.0L1049.9 158.7L1050.7 158.7L1050.7 159.4L1051.4 159.4L1051.4 160.0L1052.2 160.0L1052.2 159.9L1052.9 159.9L1052.9 157.6L1053.7 157.6L1053.7 158.4L1054.4 158.4L1054.4 158.6L1055.2 158.6L1055.2 158.9L1055.9 158.9L1055.9 157.1L1056.7 157.1L1056.7 157.8L1057.4 157.8L1057.4 158.7L1058.2 158.7L1058.2 159.8L1058.9 159.8L1058.9 157.8L1059.7 157.8L1059.7 159.2L1060.4 159.2L1060.4 161.7L1061.2 161.7L1061.2 161.1L1061.9 161.1L1061.9 160.1L1062.7 160.1L1062.7 159.7L1063.0 159.7L1063.0 186.2Z" fill="#0070c0"/>
<path d="M839.8000000000001 166L840.6500000000001 46H842.75L843.6 166z" fill="#0070c0"/>
<path d="M841.7 162V181" stroke="#d8e6f5" stroke-width="0.45"/><path d="M841.7 180.5V186.2" stroke="#fff" stroke-width="1"/>
<path d="M610.4 186.2V17.3H1063.0V186.2" fill="none" stroke="#444" stroke-width="1.1"/>
<path d="M610.4 137.6H616.4" stroke="#333" stroke-width="1"/>
<clipPath id="ci"><rect x="610.9" y="17.8" width="134.30000000000007" height="102.10000000000001"/></clipPath>
<clipPath id="c2"><rect x="610.9" y="17.8" width="134.30000000000007" height="74"/></clipPath>
<clipPath id="c3"><rect x="610.9" y="17.8" width="50" height="52"/></clipPath>
<g clip-path="url(#ci)">
<rect x="610.9" y="17.8" width="134.30000000000007" height="102.10000000000001" fill="#9bb0ef"/>
<path d="M590.9 18.3h11.0v1.6h-11.0zM605.6 18.3h11.0v1.6h-11.0zM620.3 18.3h11.0v1.6h-11.0zM635.0 18.3h11.0v1.6h-11.0zM649.7 18.3h11.0v1.6h-11.0zM664.4 18.3h11.0v1.6h-11.0zM679.1 18.3h11.0v1.6h-11.0zM693.8 18.3h11.0v1.6h-11.0zM708.5 18.3h11.0v1.6h-11.0zM723.2 18.3h11.0v1.6h-11.0zM737.9 18.3h11.0v1.6h-11.0zM601.9 21.3h11.0v1.6h-11.0zM616.6 21.3h11.0v1.6h-11.0zM631.3 21.3h11.0v1.6h-11.0zM646.0 21.3h11.0v1.6h-11.0zM660.7 21.3h11.0v1.6h-11.0zM675.4 21.3h11.0v1.6h-11.0zM690.1 21.3h11.0v1.6h-11.0zM704.8 21.3h11.0v1.6h-11.0zM719.5 21.3h11.0v1.6h-11.0zM734.2 21.3h11.0v1.6h-11.0zM748.9 21.3h11.0v1.6h-11.0zM598.2 24.3h11.0v1.6h-11.0zM613.0 24.3h11.0v1.6h-11.0zM627.7 24.3h11.0v1.6h-11.0zM642.4 24.3h11.0v1.6h-11.0zM657.1 24.3h11.0v1.6h-11.0zM671.8 24.3h11.0v1.6h-11.0zM686.5 24.3h11.0v1.6h-11.0zM701.2 24.3h11.0v1.6h-11.0zM715.9 24.3h11.0v1.6h-11.0zM730.6 24.3h11.0v1.6h-11.0zM745.3 24.3h11.0v1.6h-11.0zM594.6 27.3h11.0v1.6h-11.0zM609.3 27.3h11.0v1.6h-11.0zM624.0 27.3h11.0v1.6h-11.0zM638.7 27.3h11.0v1.6h-11.0zM653.4 27.3h11.0v1.6h-11.0zM668.1 27.3h11.0v1.6h-11.0zM682.8 27.3h11.0v1.6h-11.0zM697.5 27.3h11.0v1.6h-11.0zM712.2 27.3h11.0v1.6h-11.0zM726.9 27.3h11.0v1.6h-11.0zM741.6 27.3h11.0v1.6h-11.0zM590.9 30.3h11.0v1.6h-11.0zM605.6 30.3h11.0v1.6h-11.0zM620.3 30.3h11.0v1.6h-11.0zM635.0 30.3h11.0v1.6h-11.0zM649.7 30.3h11.0v1.6h-11.0zM664.4 30.3h11.0v1.6h-11.0zM679.1 30.3h11.0v1.6h-11.0zM693.8 30.3h11.0v1.6h-11.0zM708.5 30.3h11.0v1.6h-11.0zM723.2 30.3h11.0v1.6h-11.0zM737.9 30.3h11.0v1.6h-11.0zM601.9 33.3h11.0v1.6h-11.0zM616.6 33.3h11.0v1.6h-11.0zM631.3 33.3h11.0v1.6h-11.0zM646.0 33.3h11.0v1.6h-11.0zM660.7 33.3h11.0v1.6h-11.0zM675.4 33.3h11.0v1.6h-11.0zM690.1 33.3h11.0v1.6h-11.0zM704.8 33.3h11.0v1.6h-11.0zM719.5 33.3h11.0v1.6h-11.0zM734.2 33.3h11.0v1.6h-11.0zM748.9 33.3h11.0v1.6h-11.0zM598.2 36.3h11.0v1.6h-11.0zM613.0 36.3h11.0v1.6h-11.0zM627.7 36.3h11.0v1.6h-11.0zM642.4 36.3h11.0v1.6h-11.0zM657.1 36.3h11.0v1.6h-11.0zM671.8 36.3h11.0v1.6h-11.0zM686.5 36.3h11.0v1.6h-11.0zM701.2 36.3h11.0v1.6h-11.0zM715.9 36.3h11.0v1.6h-11.0zM730.6 36.3h11.0v1.6h-11.0zM745.3 36.3h11.0v1.6h-11.0zM594.6 39.3h11.0v1.6h-11.0zM609.3 39.3h11.0v1.6h-11.0zM624.0 39.3h11.0v1.6h-11.0zM638.7 39.3h11.0v1.6h-11.0zM653.4 39.3h11.0v1.6h-11.0zM668.1 39.3h11.0v1.6h-11.0zM682.8 39.3h11.0v1.6h-11.0zM697.5 39.3h11.0v1.6h-11.0zM712.2 39.3h11.0v1.6h-11.0zM726.9 39.3h11.0v1.6h-11.0zM741.6 39.3h11.0v1.6h-11.0zM590.9 42.3h11.0v1.6h-11.0zM605.6 42.3h11.0v1.6h-11.0zM620.3 42.3h11.0v1.6h-11.0zM635.0 42.3h11.0v1.6h-11.0zM649.7 42.3h11.0v1.6h-11.0zM664.4 42.3h11.0v1.6h-11.0zM679.1 42.3h11.0v1.6h-11.0zM693.8 42.3h11.0v1.6h-11.0zM708.5 42.3h11.0v1.6h-11.0zM723.2 42.3h11.0v1.6h-11.0zM737.9 42.3h11.0v1.6h-11.0zM601.9 45.3h11.0v1.6h-11.0zM616.6 45.3h11.0v1.6h-11.0zM631.3 45.3h11.0v1.6h-11.0zM646.0 45.3h11.0v1.6h-11.0zM660.7 45.3h11.0v1.6h-11.0zM675.4 45.3h11.0v1.6h-11.0zM690.1 45.3h11.0v1.6h-11.0zM704.8 45.3h11.0v1.6h-11.0zM719.5 45.3h11.0v1.6h-11.0zM734.2 45.3h11.0v1.6h-11.0zM748.9 45.3h11.0v1.6h-11.0zM598.2 48.3h11.0v1.6h-11.0zM613.0 48.3h11.0v1.6h-11.0zM627.7 48.3h11.0v1.6h-11.0zM642.4 48.3h11.0v1.6h-11.0zM657.1 48.3h11.0v1.6h-11.0zM671.8 48.3h11.0v1.6h-11.0zM686.5 48.3h11.0v1.6h-11.0zM701.2 48.3h11.0v1.6h-11.0zM715.9 48.3h11.0v1.6h-11.0zM730.6 48.3h11.0v1.6h-11.0zM745.3 48.3h11.0v1.6h-11.0zM594.6 51.3h11.0v1.6h-11.0zM609.3 51.3h11.0v1.6h-11.0zM624.0 51.3h11.0v1.6h-11.0zM638.7 51.3h11.0v1.6h-11.0zM653.4 51.3h11.0v1.6h-11.0zM668.1 51.3h11.0v1.6h-11.0zM682.8 51.3h11.0v1.6h-11.0zM697.5 51.3h11.0v1.6h-11.0zM712.2 51.3h11.0v1.6h-11.0zM726.9 51.3h11.0v1.6h-11.0zM741.6 51.3h11.0v1.6h-11.0zM590.9 54.3h11.0v1.6h-11.0zM605.6 54.3h11.0v1.6h-11.0zM620.3 54.3h11.0v1.6h-11.0zM635.0 54.3h11.0v1.6h-11.0zM649.7 54.3h11.0v1.6h-11.0zM664.4 54.3h11.0v1.6h-11.0zM679.1 54.3h11.0v1.6h-11.0zM693.8 54.3h11.0v1.6h-11.0zM708.5 54.3h11.0v1.6h-11.0zM723.2 54.3h11.0v1.6h-11.0zM737.9 54.3h11.0v1.6h-11.0zM601.9 57.3h11.0v1.6h-11.0zM616.6 57.3h11.0v1.6h-11.0zM631.3 57.3h11.0v1.6h-11.0zM646.0 57.3h11.0v1.6h-11.0zM660.7 57.3h11.0v1.6h-11.0zM675.4 57.3h11.0v1.6h-11.0zM690.1 57.3h11.0v1.6h-11.0zM704.8 57.3h11.0v1.6h-11.0zM719.5 57.3h11.0v1.6h-11.0zM734.2 57.3h11.0v1.6h-11.0zM748.9 57.3h11.0v1.6h-11.0zM598.2 60.3h11.0v1.6h-11.0zM613.0 60.3h11.0v1.6h-11.0zM627.7 60.3h11.0v1.6h-11.0zM642.4 60.3h11.0v1.6h-11.0zM657.1 60.3h11.0v1.6h-11.0zM671.8 60.3h11.0v1.6h-11.0zM686.5 60.3h11.0v1.6h-11.0zM701.2 60.3h11.0v1.6h-11.0zM715.9 60.3h11.0v1.6h-11.0zM730.6 60.3h11.0v1.6h-11.0zM745.3 60.3h11.0v1.6h-11.0zM594.6 63.3h11.0v1.6h-11.0zM609.3 63.3h11.0v1.6h-11.0zM624.0 63.3h11.0v1.6h-11.0zM638.7 63.3h11.0v1.6h-11.0zM653.4 63.3h11.0v1.6h-11.0zM668.1 63.3h11.0v1.6h-11.0zM682.8 63.3h11.0v1.6h-11.0zM697.5 63.3h11.0v1.6h-11.0zM712.2 63.3h11.0v1.6h-11.0zM726.9 63.3h11.0v1.6h-11.0zM741.6 63.3h11.0v1.6h-11.0zM590.9 66.3h11.0v1.6h-11.0zM605.6 66.3h11.0v1.6h-11.0zM620.3 66.3h11.0v1.6h-11.0zM635.0 66.3h11.0v1.6h-11.0zM649.7 66.3h11.0v1.6h-11.0zM664.4 66.3h11.0v1.6h-11.0zM679.1 66.3h11.0v1.6h-11.0zM693.8 66.3h11.0v1.6h-11.0zM708.5 66.3h11.0v1.6h-11.0zM723.2 66.3h11.0v1.6h-11.0zM737.9 66.3h11.0v1.6h-11.0zM601.9 69.3h11.0v1.6h-11.0zM616.6 69.3h11.0v1.6h-11.0zM631.3 69.3h11.0v1.6h-11.0zM646.0 69.3h11.0v1.6h-11.0zM660.7 69.3h11.0v1.6h-11.0zM675.4 69.3h11.0v1.6h-11.0zM690.1 69.3h11.0v1.6h-11.0zM704.8 69.3h11.0v1.6h-11.0zM719.5 69.3h11.0v1.6h-11.0zM734.2 69.3h11.0v1.6h-11.0zM748.9 69.3h11.0v1.6h-11.0zM598.2 72.3h11.0v1.6h-11.0zM613.0 72.3h11.0v1.6h-11.0zM627.7 72.3h11.0v1.6h-11.0zM642.4 72.3h11.0v1.6h-11.0zM657.1 72.3h11.0v1.6h-11.0zM671.8 72.3h11.0v1.6h-11.0zM686.5 72.3h11.0v1.6h-11.0zM701.2 72.3h11.0v1.6h-11.0zM715.9 72.3h11.0v1.6h-11.0zM730.6 72.3h11.0v1.6h-11.0zM745.3 72.3h11.0v1.6h-11.0zM594.6 75.3h11.0v1.6h-11.0zM609.3 75.3h11.0v1.6h-11.0zM624.0 75.3h11.0v1.6h-11.0zM638.7 75.3h11.0v1.6h-11.0zM653.4 75.3h11.0v1.6h-11.0zM668.1 75.3h11.0v1.6h-11.0zM682.8 75.3h11.0v1.6h-11.0zM697.5 75.3h11.0v1.6h-11.0zM712.2 75.3h11.0v1.6h-11.0zM726.9 75.3h11.0v1.6h-11.0zM741.6 75.3h11.0v1.6h-11.0zM605.6 78.3h11.0v1.6h-11.0zM620.3 78.3h11.0v1.6h-11.0zM635.0 78.3h11.0v1.6h-11.0zM649.7 78.3h11.0v1.6h-11.0zM664.4 78.3h11.0v1.6h-11.0zM679.1 78.3h11.0v1.6h-11.0zM693.8 78.3h11.0v1.6h-11.0zM708.5 78.3h11.0v1.6h-11.0zM723.2 78.3h11.0v1.6h-11.0zM737.9 78.3h11.0v1.6h-11.0zM601.9 81.3h11.0v1.6h-11.0zM616.6 81.3h11.0v1.6h-11.0zM631.3 81.3h11.0v1.6h-11.0zM646.0 81.3h11.0v1.6h-11.0zM660.7 81.3h11.0v1.6h-11.0zM675.4 81.3h11.0v1.6h-11.0zM690.1 81.3h11.0v1.6h-11.0zM704.8 81.3h11.0v1.6h-11.0zM719.5 81.3h11.0v1.6h-11.0zM734.2 81.3h11.0v1.6h-11.0zM748.9 81.3h11.0v1.6h-11.0zM598.2 84.3h11.0v1.6h-11.0zM613.0 84.3h11.0v1.6h-11.0zM627.7 84.3h11.0v1.6h-11.0zM642.4 84.3h11.0v1.6h-11.0zM657.1 84.3h11.0v1.6h-11.0zM671.8 84.3h11.0v1.6h-11.0zM686.5 84.3h11.0v1.6h-11.0zM701.2 84.3h11.0v1.6h-11.0zM715.9 84.3h11.0v1.6h-11.0zM730.6 84.3h11.0v1.6h-11.0zM745.3 84.3h11.0v1.6h-11.0zM594.6 87.3h11.0v1.6h-11.0zM609.3 87.3h11.0v1.6h-11.0zM624.0 87.3h11.0v1.6h-11.0zM638.7 87.3h11.0v1.6h-11.0zM653.4 87.3h11.0v1.6h-11.0zM668.1 87.3h11.0v1.6h-11.0zM682.8 87.3h11.0v1.6h-11.0zM697.5 87.3h11.0v1.6h-11.0zM712.2 87.3h11.0v1.6h-11.0zM726.9 87.3h11.0v1.6h-11.0zM741.6 87.3h11.0v1.6h-11.0zM590.9 90.3h11.0v1.6h-11.0zM605.6 90.3h11.0v1.6h-11.0zM620.3 90.3h11.0v1.6h-11.0zM635.0 90.3h11.0v1.6h-11.0zM649.7 90.3h11.0v1.6h-11.0zM664.4 90.3h11.0v1.6h-11.0zM679.1 90.3h11.0v1.6h-11.0zM693.8 90.3h11.0v1.6h-11.0zM708.5 90.3h11.0v1.6h-11.0zM723.2 90.3h11.0v1.6h-11.0zM737.9 90.3h11.0v1.6h-11.0zM601.9 93.3h11.0v1.6h-11.0zM616.6 93.3h11.0v1.6h-11.0zM631.3 93.3h11.0v1.6h-11.0zM646.0 93.3h11.0v1.6h-11.0zM660.7 93.3h11.0v1.6h-11.0zM675.4 93.3h11.0v1.6h-11.0zM690.1 93.3h11.0v1.6h-11.0zM704.8 93.3h11.0v1.6h-11.0zM719.5 93.3h11.0v1.6h-11.0zM734.2 93.3h11.0v1.6h-11.0zM748.9 93.3h11.0v1.6h-11.0zM598.2 96.3h11.0v1.6h-11.0zM613.0 96.3h11.0v1.6h-11.0zM627.7 96.3h11.0v1.6h-11.0zM642.4 96.3h11.0v1.6h-11.0zM657.1 96.3h11.0v1.6h-11.0zM671.8 96.3h11.0v1.6h-11.0zM686.5 96.3h11.0v1.6h-11.0zM701.2 96.3h11.0v1.6h-11.0zM715.9 96.3h11.0v1.6h-11.0zM730.6 96.3h11.0v1.6h-11.0zM745.3 96.3h11.0v1.6h-11.0zM594.6 99.3h11.0v1.6h-11.0zM609.3 99.3h11.0v1.6h-11.0zM624.0 99.3h11.0v1.6h-11.0zM638.7 99.3h11.0v1.6h-11.0zM653.4 99.3h11.0v1.6h-11.0zM668.1 99.3h11.0v1.6h-11.0zM682.8 99.3h11.0v1.6h-11.0zM697.5 99.3h11.0v1.6h-11.0zM712.2 99.3h11.0v1.6h-11.0zM726.9 99.3h11.0v1.6h-11.0zM741.6 99.3h11.0v1.6h-11.0z" fill="#4163c9" transform="translate(0.15 0.75)"/>
<path d="M590.9 18.3h11.0v1.6h-11.0zM605.6 18.3h11.0v1.6h-11.0zM620.3 18.3h11.0v1.6h-11.0zM635.0 18.3h11.0v1.6h-11.0zM649.7 18.3h11.0v1.6h-11.0zM664.4 18.3h11.0v1.6h-11.0zM679.1 18.3h11.0v1.6h-11.0zM693.8 18.3h11.0v1.6h-11.0zM708.5 18.3h11.0v1.6h-11.0zM723.2 18.3h11.0v1.6h-11.0zM737.9 18.3h11.0v1.6h-11.0zM601.9 21.3h11.0v1.6h-11.0zM616.6 21.3h11.0v1.6h-11.0zM631.3 21.3h11.0v1.6h-11.0zM646.0 21.3h11.0v1.6h-11.0zM660.7 21.3h11.0v1.6h-11.0zM675.4 21.3h11.0v1.6h-11.0zM690.1 21.3h11.0v1.6h-11.0zM704.8 21.3h11.0v1.6h-11.0zM719.5 21.3h11.0v1.6h-11.0zM734.2 21.3h11.0v1.6h-11.0zM748.9 21.3h11.0v1.6h-11.0zM598.2 24.3h11.0v1.6h-11.0zM613.0 24.3h11.0v1.6h-11.0zM627.7 24.3h11.0v1.6h-11.0zM642.4 24.3h11.0v1.6h-11.0zM657.1 24.3h11.0v1.6h-11.0zM671.8 24.3h11.0v1.6h-11.0zM686.5 24.3h11.0v1.6h-11.0zM701.2 24.3h11.0v1.6h-11.0zM715.9 24.3h11.0v1.6h-11.0zM730.6 24.3h11.0v1.6h-11.0zM745.3 24.3h11.0v1.6h-11.0zM594.6 27.3h11.0v1.6h-11.0zM609.3 27.3h11.0v1.6h-11.0zM624.0 27.3h11.0v1.6h-11.0zM638.7 27.3h11.0v1.6h-11.0zM653.4 27.3h11.0v1.6h-11.0zM668.1 27.3h11.0v1.6h-11.0zM682.8 27.3h11.0v1.6h-11.0zM697.5 27.3h11.0v1.6h-11.0zM712.2 27.3h11.0v1.6h-11.0zM726.9 27.3h11.0v1.6h-11.0zM741.6 27.3h11.0v1.6h-11.0zM590.9 30.3h11.0v1.6h-11.0zM605.6 30.3h11.0v1.6h-11.0zM620.3 30.3h11.0v1.6h-11.0zM635.0 30.3h11.0v1.6h-11.0zM649.7 30.3h11.0v1.6h-11.0zM664.4 30.3h11.0v1.6h-11.0zM679.1 30.3h11.0v1.6h-11.0zM693.8 30.3h11.0v1.6h-11.0zM708.5 30.3h11.0v1.6h-11.0zM723.2 30.3h11.0v1.6h-11.0zM737.9 30.3h11.0v1.6h-11.0zM601.9 33.3h11.0v1.6h-11.0zM616.6 33.3h11.0v1.6h-11.0zM631.3 33.3h11.0v1.6h-11.0zM646.0 33.3h11.0v1.6h-11.0zM660.7 33.3h11.0v1.6h-11.0zM675.4 33.3h11.0v1.6h-11.0zM690.1 33.3h11.0v1.6h-11.0zM704.8 33.3h11.0v1.6h-11.0zM719.5 33.3h11.0v1.6h-11.0zM734.2 33.3h11.0v1.6h-11.0zM748.9 33.3h11.0v1.6h-11.0zM598.2 36.3h11.0v1.6h-11.0zM613.0 36.3h11.0v1.6h-11.0zM627.7 36.3h11.0v1.6h-11.0zM642.4 36.3h11.0v1.6h-11.0zM657.1 36.3h11.0v1.6h-11.0zM671.8 36.3h11.0v1.6h-11.0zM686.5 36.3h11.0v1.6h-11.0zM701.2 36.3h11.0v1.6h-11.0zM715.9 36.3h11.0v1.6h-11.0zM730.6 36.3h11.0v1.6h-11.0zM745.3 36.3h11.0v1.6h-11.0zM594.6 39.3h11.0v1.6h-11.0zM609.3 39.3h11.0v1.6h-11.0zM624.0 39.3h11.0v1.6h-11.0zM638.7 39.3h11.0v1.6h-11.0zM653.4 39.3h11.0v1.6h-11.0zM668.1 39.3h11.0v1.6h-11.0zM682.8 39.3h11.0v1.6h-11.0zM697.5 39.3h11.0v1.6h-11.0zM712.2 39.3h11.0v1.6h-11.0zM726.9 39.3h11.0v1.6h-11.0zM741.6 39.3h11.0v1.6h-11.0zM590.9 42.3h11.0v1.6h-11.0zM605.6 42.3h11.0v1.6h-11.0zM620.3 42.3h11.0v1.6h-11.0zM635.0 42.3h11.0v1.6h-11.0zM649.7 42.3h11.0v1.6h-11.0zM664.4 42.3h11.0v1.6h-11.0zM679.1 42.3h11.0v1.6h-11.0zM693.8 42.3h11.0v1.6h-11.0zM708.5 42.3h11.0v1.6h-11.0zM723.2 42.3h11.0v1.6h-11.0zM737.9 42.3h11.0v1.6h-11.0zM601.9 45.3h11.0v1.6h-11.0zM616.6 45.3h11.0v1.6h-11.0zM631.3 45.3h11.0v1.6h-11.0zM646.0 45.3h11.0v1.6h-11.0zM660.7 45.3h11.0v1.6h-11.0zM675.4 45.3h11.0v1.6h-11.0zM690.1 45.3h11.0v1.6h-11.0zM704.8 45.3h11.0v1.6h-11.0zM719.5 45.3h11.0v1.6h-11.0zM734.2 45.3h11.0v1.6h-11.0zM748.9 45.3h11.0v1.6h-11.0zM598.2 48.3h11.0v1.6h-11.0zM613.0 48.3h11.0v1.6h-11.0zM627.7 48.3h11.0v1.6h-11.0zM642.4 48.3h11.0v1.6h-11.0zM657.1 48.3h11.0v1.6h-11.0zM671.8 48.3h11.0v1.6h-11.0zM686.5 48.3h11.0v1.6h-11.0zM701.2 48.3h11.0v1.6h-11.0zM715.9 48.3h11.0v1.6h-11.0zM730.6 48.3h11.0v1.6h-11.0zM745.3 48.3h11.0v1.6h-11.0zM594.6 51.3h11.0v1.6h-11.0zM609.3 51.3h11.0v1.6h-11.0zM624.0 51.3h11.0v1.6h-11.0zM638.7 51.3h11.0v1.6h-11.0zM653.4 51.3h11.0v1.6h-11.0zM668.1 51.3h11.0v1.6h-11.0zM682.8 51.3h11.0v1.6h-11.0zM697.5 51.3h11.0v1.6h-11.0zM712.2 51.3h11.0v1.6h-11.0zM726.9 51.3h11.0v1.6h-11.0zM741.6 51.3h11.0v1.6h-11.0zM590.9 54.3h11.0v1.6h-11.0zM605.6 54.3h11.0v1.6h-11.0zM620.3 54.3h11.0v1.6h-11.0zM635.0 54.3h11.0v1.6h-11.0zM649.7 54.3h11.0v1.6h-11.0zM664.4 54.3h11.0v1.6h-11.0zM679.1 54.3h11.0v1.6h-11.0zM693.8 54.3h11.0v1.6h-11.0zM708.5 54.3h11.0v1.6h-11.0zM723.2 54.3h11.0v1.6h-11.0zM737.9 54.3h11.0v1.6h-11.0zM601.9 57.3h11.0v1.6h-11.0zM616.6 57.3h11.0v1.6h-11.0zM631.3 57.3h11.0v1.6h-11.0zM646.0 57.3h11.0v1.6h-11.0zM660.7 57.3h11.0v1.6h-11.0zM675.4 57.3h11.0v1.6h-11.0zM690.1 57.3h11.0v1.6h-11.0zM704.8 57.3h11.0v1.6h-11.0zM719.5 57.3h11.0v1.6h-11.0zM734.2 57.3h11.0v1.6h-11.0zM748.9 57.3h11.0v1.6h-11.0zM598.2 60.3h11.0v1.6h-11.0zM613.0 60.3h11.0v1.6h-11.0zM627.7 60.3h11.0v1.6h-11.0zM642.4 60.3h11.0v1.6h-11.0zM657.1 60.3h11.0v1.6h-11.0zM671.8 60.3h11.0v1.6h-11.0zM686.5 60.3h11.0v1.6h-11.0zM701.2 60.3h11.0v1.6h-11.0zM715.9 60.3h11.0v1.6h-11.0zM730.6 60.3h11.0v1.6h-11.0zM745.3 60.3h11.0v1.6h-11.0zM594.6 63.3h11.0v1.6h-11.0zM609.3 63.3h11.0v1.6h-11.0zM624.0 63.3h11.0v1.6h-11.0zM638.7 63.3h11.0v1.6h-11.0zM653.4 63.3h11.0v1.6h-11.0zM668.1 63.3h11.0v1.6h-11.0zM682.8 63.3h11.0v1.6h-11.0zM697.5 63.3h11.0v1.6h-11.0zM712.2 63.3h11.0v1.6h-11.0zM726.9 63.3h11.0v1.6h-11.0zM741.6 63.3h11.0v1.6h-11.0zM590.9 66.3h11.0v1.6h-11.0zM605.6 66.3h11.0v1.6h-11.0zM620.3 66.3h11.0v1.6h-11.0zM635.0 66.3h11.0v1.6h-11.0zM649.7 66.3h11.0v1.6h-11.0zM664.4 66.3h11.0v1.6h-11.0zM679.1 66.3h11.0v1.6h-11.0zM693.8 66.3h11.0v1.6h-11.0zM708.5 66.3h11.0v1.6h-11.0zM723.2 66.3h11.0v1.6h-11.0zM737.9 66.3h11.0v1.6h-11.0zM601.9 69.3h11.0v1.6h-11.0zM616.6 69.3h11.0v1.6h-11.0zM631.3 69.3h11.0v1.6h-11.0zM646.0 69.3h11.0v1.6h-11.0zM660.7 69.3h11.0v1.6h-11.0zM675.4 69.3h11.0v1.6h-11.0zM690.1 69.3h11.0v1.6h-11.0zM704.8 69.3h11.0v1.6h-11.0zM719.5 69.3h11.0v1.6h-11.0zM734.2 69.3h11.0v1.6h-11.0zM748.9 69.3h11.0v1.6h-11.0zM598.2 72.3h11.0v1.6h-11.0zM613.0 72.3h11.0v1.6h-11.0zM627.7 72.3h11.0v1.6h-11.0zM642.4 72.3h11.0v1.6h-11.0zM657.1 72.3h11.0v1.6h-11.0zM671.8 72.3h11.0v1.6h-11.0zM686.5 72.3h11.0v1.6h-11.0zM701.2 72.3h11.0v1.6h-11.0zM715.9 72.3h11.0v1.6h-11.0zM730.6 72.3h11.0v1.6h-11.0zM745.3 72.3h11.0v1.6h-11.0zM594.6 75.3h11.0v1.6h-11.0zM609.3 75.3h11.0v1.6h-11.0zM624.0 75.3h11.0v1.6h-11.0zM638.7 75.3h11.0v1.6h-11.0zM653.4 75.3h11.0v1.6h-11.0zM668.1 75.3h11.0v1.6h-11.0zM682.8 75.3h11.0v1.6h-11.0zM697.5 75.3h11.0v1.6h-11.0zM712.2 75.3h11.0v1.6h-11.0zM726.9 75.3h11.0v1.6h-11.0zM741.6 75.3h11.0v1.6h-11.0zM605.6 78.3h11.0v1.6h-11.0zM620.3 78.3h11.0v1.6h-11.0zM635.0 78.3h11.0v1.6h-11.0zM649.7 78.3h11.0v1.6h-11.0zM664.4 78.3h11.0v1.6h-11.0zM679.1 78.3h11.0v1.6h-11.0zM693.8 78.3h11.0v1.6h-11.0zM708.5 78.3h11.0v1.6h-11.0zM723.2 78.3h11.0v1.6h-11.0zM737.9 78.3h11.0v1.6h-11.0zM601.9 81.3h11.0v1.6h-11.0zM616.6 81.3h11.0v1.6h-11.0zM631.3 81.3h11.0v1.6h-11.0zM646.0 81.3h11.0v1.6h-11.0zM660.7 81.3h11.0v1.6h-11.0zM675.4 81.3h11.0v1.6h-11.0zM690.1 81.3h11.0v1.6h-11.0zM704.8 81.3h11.0v1.6h-11.0zM719.5 81.3h11.0v1.6h-11.0zM734.2 81.3h11.0v1.6h-11.0zM748.9 81.3h11.0v1.6h-11.0zM598.2 84.3h11.0v1.6h-11.0zM613.0 84.3h11.0v1.6h-11.0zM627.7 84.3h11.0v1.6h-11.0zM642.4 84.3h11.0v1.6h-11.0zM657.1 84.3h11.0v1.6h-11.0zM671.8 84.3h11.0v1.6h-11.0zM686.5 84.3h11.0v1.6h-11.0zM701.2 84.3h11.0v1.6h-11.0zM715.9 84.3h11.0v1.6h-11.0zM730.6 84.3h11.0v1.6h-11.0zM745.3 84.3h11.0v1.6h-11.0zM594.6 87.3h11.0v1.6h-11.0zM609.3 87.3h11.0v1.6h-11.0zM624.0 87.3h11.0v1.6h-11.0zM638.7 87.3h11.0v1.6h-11.0zM653.4 87.3h11.0v1.6h-11.0zM668.1 87.3h11.0v1.6h-11.0zM682.8 87.3h11.0v1.6h-11.0zM697.5 87.3h11.0v1.6h-11.0zM712.2 87.3h11.0v1.6h-11.0zM726.9 87.3h11.0v1.6h-11.0zM741.6 87.3h11.0v1.6h-11.0zM590.9 90.3h11.0v1.6h-11.0zM605.6 90.3h11.0v1.6h-11.0zM620.3 90.3h11.0v1.6h-11.0zM635.0 90.3h11.0v1.6h-11.0zM649.7 90.3h11.0v1.6h-11.0zM664.4 90.3h11.0v1.6h-11.0zM679.1 90.3h11.0v1.6h-11.0zM693.8 90.3h11.0v1.6h-11.0zM708.5 90.3h11.0v1.6h-11.0zM723.2 90.3h11.0v1.6h-11.0zM737.9 90.3h11.0v1.6h-11.0zM601.9 93.3h11.0v1.6h-11.0zM616.6 93.3h11.0v1.6h-11.0zM631.3 93.3h11.0v1.6h-11.0zM646.0 93.3h11.0v1.6h-11.0zM660.7 93.3h11.0v1.6h-11.0zM675.4 93.3h11.0v1.6h-11.0zM690.1 93.3h11.0v1.6h-11.0zM704.8 93.3h11.0v1.6h-11.0zM719.5 93.3h11.0v1.6h-11.0zM734.2 93.3h11.0v1.6h-11.0zM748.9 93.3h11.0v1.6h-11.0zM598.2 96.3h11.0v1.6h-11.0zM613.0 96.3h11.0v1.6h-11.0zM627.7 96.3h11.0v1.6h-11.0zM642.4 96.3h11.0v1.6h-11.0zM657.1 96.3h11.0v1.6h-11.0zM671.8 96.3h11.0v1.6h-11.0zM686.5 96.3h11.0v1.6h-11.0zM701.2 96.3h11.0v1.6h-11.0zM715.9 96.3h11.0v1.6h-11.0zM730.6 96.3h11.0v1.6h-11.0zM745.3 96.3h11.0v1.6h-11.0zM594.6 99.3h11.0v1.6h-11.0zM609.3 99.3h11.0v1.6h-11.0zM624.0 99.3h11.0v1.6h-11.0zM638.7 99.3h11.0v1.6h-11.0zM653.4 99.3h11.0v1.6h-11.0zM668.1 99.3h11.0v1.6h-11.0zM682.8 99.3h11.0v1.6h-11.0zM697.5 99.3h11.0v1.6h-11.0zM712.2 99.3h11.0v1.6h-11.0zM726.9 99.3h11.0v1.6h-11.0zM741.6 99.3h11.0v1.6h-11.0z" fill="#b9e8ef" stroke="#6a8cd8" stroke-width="0.3"/>
<circle cx="679.7" cy="68.9" r="38.849999999999994" fill="none" stroke="#c2cff8" stroke-width="11.100000000000001"/>
<g clip-path="url(#c2)"><circle cx="767.2" cy="68.9" r="38.849999999999994" fill="none" stroke="#c2cff8" stroke-width="11.100000000000001"/></g>
<g clip-path="url(#c3)"><circle cx="679.7" cy="68.9" r="80" fill="none" stroke="#c2cff8" stroke-width="26"/>
<circle cx="679.7" cy="68.9" r="69.5" fill="none" stroke="#7f9eee" stroke-width="0.8"/>
<circle cx="679.7" cy="68.9" r="72.5" fill="none" stroke="#7f9eee" stroke-width="0.8"/>
<circle cx="679.7" cy="68.9" r="75.5" fill="none" stroke="#7f9eee" stroke-width="0.8"/>
<circle cx="679.7" cy="68.9" r="78.5" fill="none" stroke="#7f9eee" stroke-width="0.8"/>
<circle cx="679.7" cy="68.9" r="81.5" fill="none" stroke="#7f9eee" stroke-width="0.8"/>
<circle cx="679.7" cy="68.9" r="84.5" fill="none" stroke="#7f9eee" stroke-width="0.8"/>
</g>
<rect x="610.9" y="101.7" width="134.30000000000007" height="11.6" fill="#c2cff8"/>
<circle cx="679.7" cy="68.9" r="42.9" fill="none" stroke="#7f9eee" stroke-width="0.9"/>
<g clip-path="url(#c2)"><circle cx="767.2" cy="68.9" r="42.9" fill="none" stroke="#7f9eee" stroke-width="0.9"/></g>
<circle cx="679.7" cy="68.9" r="40.3" fill="none" stroke="#7f9eee" stroke-width="0.9"/>
<g clip-path="url(#c2)"><circle cx="767.2" cy="68.9" r="40.3" fill="none" stroke="#7f9eee" stroke-width="0.9"/></g>
<circle cx="679.7" cy="68.9" r="37.7" fill="none" stroke="#7f9eee" stroke-width="0.9"/>
<g clip-path="url(#c2)"><circle cx="767.2" cy="68.9" r="37.7" fill="none" stroke="#7f9eee" stroke-width="0.9"/></g>
<circle cx="679.7" cy="68.9" r="35.1" fill="none" stroke="#7f9eee" stroke-width="0.9"/>
<g clip-path="url(#c2)"><circle cx="767.2" cy="68.9" r="35.1" fill="none" stroke="#7f9eee" stroke-width="0.9"/></g>
<path d="M610.9 102.9H745.2" stroke="#7f9eee" stroke-width="0.8"/>
<path d="M610.9 104.9H745.2" stroke="#7f9eee" stroke-width="0.8"/>
<path d="M610.9 106.9H745.2" stroke="#7f9eee" stroke-width="0.8"/>
<path d="M610.9 108.9H745.2" stroke="#7f9eee" stroke-width="0.8"/>
<path d="M607.4 113.9h13v2.3h-13zM622.2 113.9h13v2.3h-13zM637.0 113.9h13v2.3h-13zM651.8 113.9h13v2.3h-13zM666.6 113.9h13v2.3h-13zM681.4 113.9h13v2.3h-13zM696.2 113.9h13v2.3h-13zM711.0 113.9h13v2.3h-13zM725.8 113.9h13v2.3h-13zM740.6 113.9h13v2.3h-13z" fill="#4a6ccf" transform="translate(0.2 0.8)"/>
<path d="M607.4 113.9h13v2.3h-13zM622.2 113.9h13v2.3h-13zM637.0 113.9h13v2.3h-13zM651.8 113.9h13v2.3h-13zM666.6 113.9h13v2.3h-13zM681.4 113.9h13v2.3h-13zM696.2 113.9h13v2.3h-13zM711.0 113.9h13v2.3h-13zM725.8 113.9h13v2.3h-13zM740.6 113.9h13v2.3h-13z" fill="#b2e3ec" stroke="#5a7fd0" stroke-width="0.4"/>
<rect x="610.9" y="118.0" width="134.30000000000007" height="2" fill="#8ea4ea"/>
</g>
<path d="M614.8 23.8H633.5" stroke="#ee1c2e" stroke-width="1.5"/>
<text x="614.5" y="37.2" font-size="11" fill="#e0244e" textLength="37" lengthAdjust="spacingAndGlyphs" >50 mm</text>
<text x="794" y="53" font-size="16.5" fill="#1a1a1a" textLength="43" lengthAdjust="spacingAndGlyphs" >Pump</text>
<path d="M910 30.3H924" stroke="#0070c0" stroke-width="1.3"/>
<path d="M910 49.3H924" stroke="#ff0808" stroke-width="1.3"/>
<text x="930.6" y="36.7" font-size="16" fill="#1a1a1a" textLength="123.3" lengthAdjust="spacingAndGlyphs" >Below threshold</text>
<text x="930.6" y="54.0" font-size="16" fill="#1a1a1a" textLength="125" lengthAdjust="spacingAndGlyphs" >Above threshold</text>
<text x="610.1" y="205.2" font-size="13.5" fill="#1a1a1a" text-anchor="middle" textLength="35" lengthAdjust="spacingAndGlyphs" >1,520</text>
<text x="836.7" y="205.2" font-size="13.5" fill="#1a1a1a" text-anchor="middle" textLength="35" lengthAdjust="spacingAndGlyphs" >1,550</text>
<text x="1080" y="205.2" font-size="13.5" fill="#1a1a1a" text-anchor="end" textLength="35" lengthAdjust="spacingAndGlyphs" >1,580</text>
<text x="837" y="230.7" font-size="15" fill="#1a1a1a" text-anchor="middle" textLength="129" lengthAdjust="spacingAndGlyphs" >Wavelength (nm)</text>
<text transform="translate(598.7 101) rotate(-90)" font-size="15" text-anchor="middle" fill="#1a1a1a" textLength="120.6" lengthAdjust="spacingAndGlyphs">Power (10 dB/div)</text>
</g>
<g id="pc">
<text x="0" y="264.0" font-size="22" fill="#000" textLength="12.3" lengthAdjust="spacingAndGlyphs" font-weight="bold" stroke="#000" stroke-width="1.2" stroke-linejoin="round">c</text>
<rect x="52.6" y="276.7" width="473.0" height="247.7" fill="none" stroke="#333" stroke-width="1.1"/>
<text x="52.6" y="542.2" font-size="13" fill="#1a1a1a" text-anchor="middle" >4</text>
<path d="M170.8 524.4v-5.2" stroke="#333" stroke-width="1"/>
<text x="170.8" y="542.2" font-size="13" fill="#1a1a1a" text-anchor="middle" >5</text>
<path d="M289.1 524.4v-5.2" stroke="#333" stroke-width="1"/>
<text x="289.1" y="542.2" font-size="13" fill="#1a1a1a" text-anchor="middle" >6</text>
<path d="M407.4 524.4v-5.2" stroke="#333" stroke-width="1"/>
<text x="407.4" y="542.2" font-size="13" fill="#1a1a1a" text-anchor="middle" >7</text>
<text x="525.6" y="542.2" font-size="13" fill="#1a1a1a" text-anchor="middle" >8</text>
<path d="M52.6 496.9h5.2" stroke="#333" stroke-width="1"/>
<text x="45.0" y="501.6" font-size="13" fill="#1a1a1a" text-anchor="end" >7</text>
<path d="M52.6 441.8h5.2" stroke="#333" stroke-width="1"/>
<text x="45.0" y="446.5" font-size="13" fill="#1a1a1a" text-anchor="end" >8</text>
<path d="M52.6 386.8h5.2" stroke="#333" stroke-width="1"/>
<text x="45.0" y="391.5" font-size="13" fill="#1a1a1a" text-anchor="end" >9</text>
<path d="M52.6 331.7h5.2" stroke="#333" stroke-width="1"/>
<text x="45.0" y="336.4" font-size="13" fill="#1a1a1a" text-anchor="end" >10</text>
<text x="45.0" y="281.4" font-size="13" fill="#1a1a1a" text-anchor="end" >11</text>
<rect x="78.7" y="487.9" width="7" height="7" fill="#f80d0d"/>
<rect x="114.1" y="471.4" width="7" height="7" fill="#f80d0d"/>
<rect x="155.5" y="443.8" width="7" height="7" fill="#f80d0d"/>
<rect x="196.9" y="427.3" width="7" height="7" fill="#f80d0d"/>
<rect x="238.3" y="399.8" width="7" height="7" fill="#f80d0d"/>
<rect x="285.6" y="388.8" width="7" height="7" fill="#f80d0d"/>
<rect x="309.3" y="372.3" width="7" height="7" fill="#f80d0d"/>
<rect x="356.5" y="355.8" width="7" height="7" fill="#f80d0d"/>
<rect x="397.9" y="333.7" width="7" height="7" fill="#f80d0d"/>
<rect x="433.4" y="317.2" width="7" height="7" fill="#f80d0d"/>
<rect x="463.0" y="300.7" width="7" height="7" fill="#f80d0d"/>
<circle cx="82.2" cy="496.9" r="4.25" fill="#0808f5"/>
<circle cx="117.6" cy="496.9" r="4.25" fill="#0808f5"/>
<circle cx="159.0" cy="502.4" r="4.25" fill="#0808f5"/>
<circle cx="200.4" cy="496.9" r="4.25" fill="#0808f5"/>
<circle cx="241.8" cy="496.9" r="4.25" fill="#0808f5"/>
<circle cx="289.1" cy="496.9" r="4.25" fill="#0808f5"/>
<circle cx="312.8" cy="496.9" r="4.25" fill="#0808f5"/>
<circle cx="360.0" cy="496.9" r="4.25" fill="#0808f5"/>
<circle cx="401.4" cy="502.4" r="4.25" fill="#0808f5"/>
<circle cx="436.9" cy="496.9" r="4.25" fill="#0808f5"/>
<circle cx="466.5" cy="496.9" r="4.25" fill="#0808f5"/>
<rect x="78" y="299.9" width="7" height="7" fill="#f80d0d"/>
<circle cx="81.5" cy="328.5" r="4.3" fill="#0808f5"/>
<text x="94.0" y="308.3" font-size="15" fill="#1a1a1a" textLength="125.8" lengthAdjust="spacingAndGlyphs" >Pump right facet</text>
<text x="94.0" y="333.6" font-size="15" fill="#1a1a1a" textLength="114.3" lengthAdjust="spacingAndGlyphs" >Pump left facet</text>
<text x="288.8" y="570.2" font-size="15.5" fill="#1a1a1a" text-anchor="middle" textLength="176.8" lengthAdjust="spacingAndGlyphs" >Total coupling loss (dB)</text>
<text transform="translate(13.6 401.2) rotate(-90)" font-size="15" text-anchor="middle" fill="#1a1a1a" textLength="221.5" lengthAdjust="spacingAndGlyphs">OPO threshold in fibre (dBm)</text>
</g>
<g id="pd">
<text x="553" y="264.0" font-size="22" fill="#000" textLength="13.5" lengthAdjust="spacingAndGlyphs" font-weight="bold" stroke="#000" stroke-width="1.2" stroke-linejoin="round">d</text>
<path d="M602.8 497.3L1068.4 276.7" stroke="#f80d0d" stroke-width="1.5" stroke-dasharray="6.8 3.9" fill="none"/>
<path d="M602.8 494.8H1068.4" stroke="#6668fa" stroke-width="1.4" stroke-dasharray="9.5 5.3" fill="none"/>
<rect x="602.8" y="276.7" width="465.60000000000014" height="246.3" fill="none" stroke="#333" stroke-width="1.1"/>
<text x="602.8" y="543.0" font-size="13" fill="#1a1a1a" text-anchor="middle" >4</text>
<path d="M719.2 523.0v-5" stroke="#333" stroke-width="1"/>
<text x="719.2" y="543.0" font-size="13" fill="#1a1a1a" text-anchor="middle" >5</text>
<path d="M835.6 523.0v-5" stroke="#333" stroke-width="1"/>
<text x="835.6" y="543.0" font-size="13" fill="#1a1a1a" text-anchor="middle" >6</text>
<path d="M952.0 523.0v-5" stroke="#333" stroke-width="1"/>
<text x="952.0" y="543.0" font-size="13" fill="#1a1a1a" text-anchor="middle" >7</text>
<text x="1068.4" y="543.0" font-size="13" fill="#1a1a1a" text-anchor="middle" >8</text>
<path d="M602.8 495.6h5" stroke="#333" stroke-width="1"/>
<text x="595.1999999999999" y="500.6" font-size="13" fill="#1a1a1a" text-anchor="end" >2</text>
<path d="M602.8 440.9h5" stroke="#333" stroke-width="1"/>
<text x="595.1999999999999" y="445.9" font-size="13" fill="#1a1a1a" text-anchor="end" >3</text>
<path d="M602.8 386.2h5" stroke="#333" stroke-width="1"/>
<text x="595.1999999999999" y="391.2" font-size="13" fill="#1a1a1a" text-anchor="end" >4</text>
<path d="M602.8 331.4h5" stroke="#333" stroke-width="1"/>
<text x="595.1999999999999" y="336.4" font-size="13" fill="#1a1a1a" text-anchor="end" >5</text>
<text x="595.1999999999999" y="281.7" font-size="13" fill="#1a1a1a" text-anchor="end" >6</text>
<rect x="628.3" y="482.2" width="7.2" height="7.2" fill="#f80d0d"/>
<rect x="663.2" y="465.8" width="7.2" height="7.2" fill="#f80d0d"/>
<rect x="704.0" y="440.0" width="7.2" height="7.2" fill="#f80d0d"/>
<rect x="744.7" y="424.7" width="7.2" height="7.2" fill="#f80d0d"/>
<rect x="785.4" y="401.7" width="7.2" height="7.2" fill="#f80d0d"/>
<rect x="832.0" y="385.3" width="7.2" height="7.2" fill="#f80d0d"/>
<rect x="855.3" y="371.6" width="7.2" height="7.2" fill="#f80d0d"/>
<rect x="901.8" y="352.5" width="7.2" height="7.2" fill="#f80d0d"/>
<rect x="942.6" y="329.5" width="7.2" height="7.2" fill="#f80d0d"/>
<rect x="977.5" y="315.2" width="7.2" height="7.2" fill="#f80d0d"/>
<rect x="1006.6" y="300.5" width="7.2" height="7.2" fill="#f80d0d"/>
<circle cx="631.9" cy="491.8" r="4.2" fill="#0808f5"/>
<circle cx="666.8" cy="491.3" r="4.2" fill="#0808f5"/>
<circle cx="707.6" cy="498.4" r="4.2" fill="#0808f5"/>
<circle cx="748.3" cy="494.0" r="4.2" fill="#0808f5"/>
<circle cx="789.0" cy="498.4" r="4.2" fill="#0808f5"/>
<circle cx="835.6" cy="492.9" r="4.2" fill="#0808f5"/>
<circle cx="858.9" cy="495.6" r="4.2" fill="#0808f5"/>
<circle cx="905.4" cy="492.9" r="4.2" fill="#0808f5"/>
<circle cx="946.2" cy="497.3" r="4.2" fill="#0808f5"/>
<circle cx="981.1" cy="494.0" r="4.2" fill="#0808f5"/>
<circle cx="1010.2" cy="495.6" r="4.2" fill="#0808f5"/>
<rect x="621.6" y="294.6" width="7" height="7" fill="#f80d0d"/>
<circle cx="625.1" cy="322.8" r="4.2" fill="#0808f5"/>
<text x="637.3" y="302.8" font-size="15" fill="#1a1a1a" textLength="118.5" lengthAdjust="spacingAndGlyphs" >Right facet loss</text>
<text x="637.3" y="327.3" font-size="15" fill="#1a1a1a" textLength="107.5" lengthAdjust="spacingAndGlyphs" >Left facet loss</text>
<text x="812.3" y="418" font-size="15" fill="#1a1a1a" textLength="248.5" lengthAdjust="spacingAndGlyphs"><tspan font-style="italic">y</tspan> = (1.011 ± 0.013)<tspan font-style="italic">x</tspan> – (2.08 ± 0.08)</text>
<text x="812.3" y="444.6" font-size="15" fill="#1a1a1a" font-style="italic">R</text>
<text x="822.2" y="438.2" font-size="9.5" fill="#1a1a1a">2</text>
<text x="831.0" y="444.6" font-size="15" fill="#1a1a1a" textLength="65" lengthAdjust="spacingAndGlyphs" >= 0.9985</text>
<text x="877.2" y="486.1" font-size="15" fill="#1a1a1a" textLength="117.3" lengthAdjust="spacingAndGlyphs" >Average = 2.016</text>
<text x="835.8" y="569.4" font-size="13" fill="#1a1a1a" text-anchor="middle" textLength="149.5" lengthAdjust="spacingAndGlyphs" >Total coupling loss (dB)</text>
<text transform="translate(572.4 400.6) rotate(-90)" font-size="15" text-anchor="middle" fill="#1a1a1a" textLength="189" lengthAdjust="spacingAndGlyphs">Measured facet loss (dB)</text>
</g>
</svg>
</body></html>
